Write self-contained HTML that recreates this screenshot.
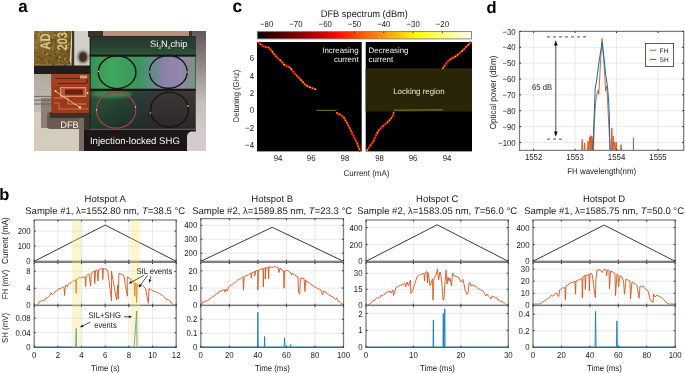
<!DOCTYPE html><html><head><meta charset="utf-8"><style>html,body{margin:0;padding:0;background:#fff;overflow:hidden}svg{display:block;will-change:transform}text{text-rendering:geometricPrecision}</style></head><body><svg width="685" height="373" viewBox="0 0 685 373" font-family="'Liberation Sans', sans-serif">
<rect width="685" height="373" fill="#fff"/>
<text font-size="17" text-anchor="start" fill="#000" font-weight="bold" transform="translate(18.30 12.00)" >a</text>
<text font-size="16.5" text-anchor="start" fill="#000" font-weight="bold" transform="translate(-0.80 199.60)" >b</text>
<text font-size="17.5" text-anchor="start" fill="#000" font-weight="bold" transform="translate(232.60 12.00)" >c</text>
<text font-size="16.5" text-anchor="start" fill="#000" font-weight="bold" transform="translate(486.50 12.60)" >d</text>
<defs>
<filter id="pb" x="-5%" y="-5%" width="110%" height="110%"><feGaussianBlur stdDeviation="0.6"/></filter>
<filter id="pb2" x="-60%" y="-60%" width="220%" height="220%"><feGaussianBlur stdDeviation="1.5"/></filter>
<clipPath id="pc"><rect x="34" y="31" width="172" height="120"/></clipPath>
<linearGradient id="gold" x1="0" y1="0" x2="1" y2="1">
 <stop offset="0" stop-color="#9a8040"/><stop offset="0.5" stop-color="#7c6028"/><stop offset="1" stop-color="#6a5222"/>
</linearGradient>
<linearGradient id="dk" x1="0" y1="0" x2="0" y2="1">
 <stop offset="0" stop-color="#000" stop-opacity="0"/><stop offset="1" stop-color="#000" stop-opacity="0.3"/>
</linearGradient>
<linearGradient id="top" x1="0" y1="0" x2="0" y2="1">
 <stop offset="0" stop-color="#283832"/><stop offset="0.6" stop-color="#2c4434"/><stop offset="1" stop-color="#2e5a3a"/>
</linearGradient>
<linearGradient id="r1" x1="0" y1="0" x2="1" y2="0">
 <stop offset="0" stop-color="#3a9456"/><stop offset="0.2" stop-color="#42ac60"/><stop offset="0.45" stop-color="#3a9a5e"/><stop offset="0.56" stop-color="#5a9280"/><stop offset="0.72" stop-color="#9084b0"/><stop offset="0.88" stop-color="#968cac"/><stop offset="1" stop-color="#78987c"/>
</linearGradient>
<linearGradient id="r2" x1="0" y1="0" x2="1" y2="0">
 <stop offset="0" stop-color="#2e5a40"/><stop offset="0.3" stop-color="#2a4a3c"/><stop offset="0.5" stop-color="#2e403a"/><stop offset="0.65" stop-color="#40383a"/><stop offset="1" stop-color="#3e3a36"/>
</linearGradient>
<linearGradient id="rgt" x1="0" y1="0" x2="0" y2="1">
 <stop offset="0" stop-color="#5e5454"/><stop offset="0.25" stop-color="#8a8080"/><stop offset="0.6" stop-color="#c8c0c0"/><stop offset="1" stop-color="#dcd4d4"/>
</linearGradient>
<linearGradient id="lft" x1="0" y1="0" x2="0" y2="1">
 <stop offset="0" stop-color="#b0a89c"/><stop offset="1" stop-color="#c8c0b4"/>
</linearGradient>
</defs>
<g clip-path="url(#pc)"><g filter="url(#pb)">
<rect x="30" y="28" width="180" height="126" fill="#8c8078"/>
<rect x="30" y="72" width="22" height="45" fill="url(#lft)"/>
<rect x="30" y="112" width="60" height="42" fill="#d4ccbc"/>
<rect x="41" y="98" width="11" height="30" fill="#8e8076"/>
<rect x="47" y="112" width="43" height="17" rx="3" fill="#6a5a50"/>
<rect x="50" y="112" width="40" height="6" fill="#3a3028"/>
<rect x="79" y="118" width="6" height="36" fill="#7a6a60"/>
<rect x="84" y="100" width="6" height="54" fill="#3a302a"/>
<line x1="34" y1="96.4" x2="52" y2="96.4" stroke="#6a6058" stroke-width="0.9"/>
<line x1="34" y1="100.2" x2="52" y2="100.2" stroke="#6a6058" stroke-width="0.9"/>
<line x1="34" y1="104" x2="52" y2="104" stroke="#6a6058" stroke-width="0.9"/>
<polygon points="30,28 72.5,28 70.5,63 69,65.5 30,65.5" fill="url(#gold)"/>
<line x1="72.2" y1="31" x2="70.2" y2="63" stroke="#e0d49a" stroke-width="1.4"/>
<line x1="34" y1="65.2" x2="70" y2="65.2" stroke="#b8a870" stroke-width="1"/>
<rect x="42.6" y="49.5" width="1.3" height="1.3" fill="#907238"/>
<rect x="67.0" y="47.1" width="1.3" height="1.3" fill="#b09850"/>
<rect x="36.4" y="31.4" width="1.3" height="1.3" fill="#4e3a14"/>
<rect x="43.3" y="39.0" width="1.3" height="1.3" fill="#4e3a14"/>
<rect x="53.5" y="49.7" width="1.3" height="1.3" fill="#4e3a14"/>
<rect x="57.0" y="36.1" width="1.3" height="1.3" fill="#5a4412"/>
<rect x="65.2" y="48.8" width="1.3" height="1.3" fill="#a88c48"/>
<rect x="58.2" y="33.2" width="1.3" height="1.3" fill="#b09850"/>
<rect x="35.5" y="57.5" width="1.3" height="1.3" fill="#907238"/>
<rect x="51.0" y="55.4" width="1.3" height="1.3" fill="#4e3a14"/>
<rect x="59.7" y="62.3" width="1.3" height="1.3" fill="#4e3a14"/>
<rect x="60.2" y="50.6" width="1.3" height="1.3" fill="#5a4412"/>
<rect x="65.6" y="34.3" width="1.3" height="1.3" fill="#5a4412"/>
<rect x="51.8" y="39.8" width="1.3" height="1.3" fill="#4e3a14"/>
<rect x="62.0" y="60.1" width="1.3" height="1.3" fill="#4e3a14"/>
<rect x="52.3" y="44.1" width="1.3" height="1.3" fill="#907238"/>
<rect x="53.2" y="44.9" width="1.3" height="1.3" fill="#5a4412"/>
<rect x="66.6" y="54.2" width="1.3" height="1.3" fill="#a88c48"/>
<rect x="64.8" y="64.7" width="1.3" height="1.3" fill="#5a4412"/>
<rect x="59.2" y="42.1" width="1.3" height="1.3" fill="#b09850"/>
<rect x="66.6" y="50.3" width="1.3" height="1.3" fill="#5a4412"/>
<rect x="56.8" y="64.6" width="1.3" height="1.3" fill="#907238"/>
<rect x="44.3" y="33.2" width="1.3" height="1.3" fill="#4e3a14"/>
<rect x="37.2" y="58.2" width="1.3" height="1.3" fill="#4e3a14"/>
<rect x="66.3" y="31.7" width="1.3" height="1.3" fill="#4e3a14"/>
<rect x="61.7" y="60.7" width="1.3" height="1.3" fill="#a88c48"/>
<rect x="55.8" y="56.9" width="1.3" height="1.3" fill="#4e3a14"/>
<rect x="59.9" y="42.3" width="1.3" height="1.3" fill="#907238"/>
<rect x="52.2" y="64.9" width="1.3" height="1.3" fill="#907238"/>
<rect x="34.3" y="34.7" width="1.3" height="1.3" fill="#b09850"/>
<rect x="35.1" y="37.7" width="1.3" height="1.3" fill="#4e3a14"/>
<rect x="44.5" y="40.0" width="1.3" height="1.3" fill="#a88c48"/>
<rect x="69.3" y="42.6" width="1.3" height="1.3" fill="#907238"/>
<rect x="68.5" y="61.5" width="1.3" height="1.3" fill="#4e3a14"/>
<rect x="47.6" y="60.6" width="1.3" height="1.3" fill="#4e3a14"/>
<rect x="57.2" y="51.3" width="1.3" height="1.3" fill="#b09850"/>
<rect x="37.7" y="64.1" width="1.3" height="1.3" fill="#b09850"/>
<rect x="43.8" y="52.6" width="1.3" height="1.3" fill="#5a4412"/>
<rect x="67.7" y="45.9" width="1.3" height="1.3" fill="#907238"/>
<rect x="52.8" y="49.6" width="1.3" height="1.3" fill="#a88c48"/>
<rect x="62.4" y="64.6" width="1.3" height="1.3" fill="#907238"/>
<rect x="34.7" y="51.9" width="1.3" height="1.3" fill="#5a4412"/>
<rect x="36.2" y="52.3" width="1.3" height="1.3" fill="#4e3a14"/>
<rect x="46.7" y="62.2" width="1.3" height="1.3" fill="#b09850"/>
<rect x="59.5" y="56.1" width="1.3" height="1.3" fill="#a88c48"/>
<rect x="55.2" y="63.5" width="1.3" height="1.3" fill="#a88c48"/>
<rect x="68.7" y="39.5" width="1.3" height="1.3" fill="#4e3a14"/>
<rect x="44.8" y="51.4" width="1.3" height="1.3" fill="#5a4412"/>
<rect x="47.1" y="41.6" width="1.3" height="1.3" fill="#907238"/>
<rect x="64.4" y="40.0" width="1.3" height="1.3" fill="#4e3a14"/>
<rect x="37.8" y="58.6" width="1.3" height="1.3" fill="#b09850"/>
<rect x="58.6" y="35.5" width="1.3" height="1.3" fill="#b09850"/>
<rect x="42.0" y="58.3" width="1.3" height="1.3" fill="#5a4412"/>
<rect x="45.8" y="54.1" width="1.3" height="1.3" fill="#a88c48"/>
<rect x="37.7" y="41.9" width="1.3" height="1.3" fill="#907238"/>
<rect x="58.3" y="38.6" width="1.3" height="1.3" fill="#5a4412"/>
<rect x="36.9" y="56.2" width="1.3" height="1.3" fill="#5a4412"/>
<rect x="65.9" y="46.3" width="1.3" height="1.3" fill="#5a4412"/>
<rect x="62.3" y="32.2" width="1.3" height="1.3" fill="#5a4412"/>
<rect x="45.3" y="59.4" width="1.3" height="1.3" fill="#b09850"/>
<rect x="40.6" y="40.5" width="1.3" height="1.3" fill="#a88c48"/>
<rect x="63.0" y="42.7" width="1.3" height="1.3" fill="#5a4412"/>
<rect x="49.2" y="48.6" width="1.3" height="1.3" fill="#907238"/>
<rect x="50.7" y="52.6" width="1.3" height="1.3" fill="#907238"/>
<rect x="49.1" y="44.9" width="1.3" height="1.3" fill="#4e3a14"/>
<rect x="39.6" y="31.2" width="1.3" height="1.3" fill="#b09850"/>
<rect x="69.5" y="45.8" width="1.3" height="1.3" fill="#5a4412"/>
<rect x="35.2" y="46.5" width="1.3" height="1.3" fill="#b09850"/>
<rect x="68.7" y="49.5" width="1.3" height="1.3" fill="#5a4412"/>
<rect x="65.0" y="60.2" width="1.3" height="1.3" fill="#907238"/>
<rect x="38.3" y="39.3" width="1.3" height="1.3" fill="#a88c48"/>
<rect x="66.5" y="54.6" width="1.3" height="1.3" fill="#5a4412"/>
<rect x="66.3" y="61.6" width="1.3" height="1.3" fill="#b09850"/>
<rect x="35.8" y="47.4" width="1.3" height="1.3" fill="#a88c48"/>
<rect x="40.2" y="41.2" width="1.3" height="1.3" fill="#a88c48"/>
<rect x="52.9" y="45.1" width="1.3" height="1.3" fill="#b09850"/>
<rect x="38.1" y="35.3" width="1.3" height="1.3" fill="#b09850"/>
<rect x="51.2" y="57.6" width="1.3" height="1.3" fill="#907238"/>
<rect x="41.9" y="35.2" width="1.3" height="1.3" fill="#a88c48"/>
<rect x="40.2" y="57.9" width="1.3" height="1.3" fill="#5a4412"/>
<rect x="63.6" y="31.3" width="1.3" height="1.3" fill="#b09850"/>
<rect x="65.1" y="32.7" width="1.3" height="1.3" fill="#907238"/>
<rect x="42.9" y="52.0" width="1.3" height="1.3" fill="#b09850"/>
<rect x="49.2" y="47.1" width="1.3" height="1.3" fill="#a88c48"/>
<rect x="64.9" y="57.4" width="1.3" height="1.3" fill="#a88c48"/>
<rect x="38.5" y="33.3" width="1.3" height="1.3" fill="#a88c48"/>
<rect x="64.8" y="33.9" width="1.3" height="1.3" fill="#b09850"/>
<rect x="51.6" y="36.3" width="1.3" height="1.3" fill="#a88c48"/>
<rect x="46.6" y="53.0" width="1.3" height="1.3" fill="#b09850"/>
<rect x="44.9" y="40.0" width="1.3" height="1.3" fill="#907238"/>
<rect x="49.4" y="35.3" width="1.3" height="1.3" fill="#a88c48"/>
<rect x="59.8" y="43.9" width="1.3" height="1.3" fill="#a88c48"/>
<rect x="54.4" y="32.5" width="1.3" height="1.3" fill="#4e3a14"/>
<rect x="55.8" y="57.6" width="1.3" height="1.3" fill="#4e3a14"/>
<rect x="56.9" y="32.5" width="1.3" height="1.3" fill="#4e3a14"/>
<rect x="35.9" y="52.3" width="1.3" height="1.3" fill="#907238"/>
<rect x="49.1" y="54.6" width="1.3" height="1.3" fill="#4e3a14"/>
<rect x="34.6" y="38.4" width="1.3" height="1.3" fill="#907238"/>
<rect x="59.0" y="33.4" width="1.3" height="1.3" fill="#4e3a14"/>
<rect x="42.1" y="35.4" width="1.3" height="1.3" fill="#a88c48"/>
<rect x="67.7" y="43.7" width="1.3" height="1.3" fill="#b09850"/>
<rect x="62.5" y="39.9" width="1.3" height="1.3" fill="#4e3a14"/>
<rect x="58.9" y="62.9" width="1.3" height="1.3" fill="#b09850"/>
<rect x="62.5" y="53.7" width="1.3" height="1.3" fill="#907238"/>
<rect x="54.3" y="34.5" width="1.3" height="1.3" fill="#b09850"/>
<rect x="59.8" y="47.1" width="1.3" height="1.3" fill="#5a4412"/>
<rect x="61.9" y="32.5" width="1.3" height="1.3" fill="#a88c48"/>
<rect x="54.3" y="53.4" width="1.3" height="1.3" fill="#4e3a14"/>
<rect x="40.4" y="31.8" width="1.3" height="1.3" fill="#a88c48"/>
<rect x="34.9" y="34.9" width="1.3" height="1.3" fill="#4e3a14"/>
<rect x="64.1" y="63.4" width="1.3" height="1.3" fill="#b09850"/>
<rect x="44.8" y="34.0" width="1.3" height="1.3" fill="#b09850"/>
<rect x="52.4" y="55.3" width="1.3" height="1.3" fill="#a88c48"/>
<rect x="54.0" y="34.4" width="1.3" height="1.3" fill="#b09850"/>
<rect x="36.2" y="42.0" width="1.3" height="1.3" fill="#b09850"/>
<rect x="40.5" y="33.6" width="1.3" height="1.3" fill="#5a4412"/>
<rect x="57.3" y="46.4" width="1.3" height="1.3" fill="#4e3a14"/>
<rect x="43.1" y="51.4" width="1.3" height="1.3" fill="#907238"/>
<rect x="54.0" y="63.9" width="1.3" height="1.3" fill="#4e3a14"/>
<rect x="52.0" y="64.1" width="1.3" height="1.3" fill="#4e3a14"/>
<rect x="64.4" y="63.9" width="1.3" height="1.3" fill="#4e3a14"/>
<rect x="58.9" y="56.7" width="1.3" height="1.3" fill="#b09850"/>
<rect x="58.7" y="36.3" width="1.3" height="1.3" fill="#4e3a14"/>
<rect x="66.3" y="36.1" width="1.3" height="1.3" fill="#a88c48"/>
<rect x="51.9" y="47.4" width="1.3" height="1.3" fill="#b09850"/>
<rect x="68.2" y="50.9" width="1.3" height="1.3" fill="#5a4412"/>
<rect x="38.9" y="56.6" width="1.3" height="1.3" fill="#5a4412"/>
<rect x="55.1" y="41.7" width="1.3" height="1.3" fill="#5a4412"/>
<rect x="64.7" y="49.3" width="1.3" height="1.3" fill="#907238"/>
<rect x="58.2" y="60.1" width="1.3" height="1.3" fill="#b09850"/>
<rect x="64.7" y="50.9" width="1.3" height="1.3" fill="#907238"/>
<rect x="66.0" y="41.4" width="1.3" height="1.3" fill="#907238"/>
<rect x="51.3" y="44.0" width="1.3" height="1.3" fill="#5a4412"/>
<rect x="54.5" y="39.1" width="1.3" height="1.3" fill="#4e3a14"/>
<rect x="61.9" y="35.9" width="1.3" height="1.3" fill="#4e3a14"/>
<rect x="59.3" y="38.0" width="1.3" height="1.3" fill="#b09850"/>
<rect x="64.0" y="58.9" width="1.3" height="1.3" fill="#b09850"/>
<rect x="35.0" y="64.8" width="1.3" height="1.3" fill="#a88c48"/>
<rect x="64.8" y="44.6" width="1.3" height="1.3" fill="#a88c48"/>
<rect x="50.8" y="38.8" width="1.3" height="1.3" fill="#5a4412"/>
<text x="0" y="0" font-size="14" font-weight="bold" fill="#d8c888" transform="translate(50.3 49.8) rotate(-90) scale(0.82 1)">AD</text>
<text x="0" y="0" font-size="14" font-weight="bold" fill="#d4c484" transform="translate(67.2 50.6) rotate(-90) scale(0.8 1)">203</text>
<rect x="72" y="28" width="18" height="46" fill="#d2d0c8"/>
<rect x="72" y="28" width="2.2" height="46" fill="#3a342c"/>
<ellipse cx="83" cy="57" rx="5" ry="6" fill="#4a4034" filter="url(#pb2)"/>
<ellipse cx="83" cy="57" rx="3.5" ry="4.5" fill="#3a3028"/>
<rect x="30" y="65.5" width="60" height="8.5" fill="#221e1a"/>
<rect x="51.3" y="74" width="38.3" height="39" fill="#9c3a1a"/>
<rect x="51.3" y="74" width="38.3" height="12" fill="#a64020"/>
<path d="M55 78.5 H85 Q87.5 78.5 87.5 81 Q87.5 83.5 85 83.5 H58" stroke="#6a1c0c" stroke-width="1.2" fill="none"/>
<rect x="80" y="75.5" width="7" height="3" fill="#e0a080"/>
<rect x="60.6" y="87.6" width="25.2" height="8.8" fill="#b85432" stroke="#e89a70" stroke-width="1"/>
<rect x="65" y="89.3" width="18" height="5.4" fill="#6a2414"/>
<path d="M54 98 L68 98 L68 104 L86 104" stroke="#d8804c" stroke-width="1" fill="none"/>
<path d="M54 103 L59 103 L59 109 L88 109" stroke="#c8703e" stroke-width="1.1" fill="none"/>
<line x1="55" y1="91" x2="80" y2="107.5" stroke="#f0d8c8" stroke-width="0.8"/>
<circle cx="80" cy="107.5" r="1.2" fill="#fff0e0"/><circle cx="55.5" cy="91" r="1" fill="#fff0e0"/><circle cx="87.5" cy="93" r="0.9" fill="#ffe8d0"/>
<rect x="88" y="28" width="104" height="9" fill="#3a322c"/>
<rect x="103" y="28" width="86" height="8" fill="#b8907e"/>
<rect x="192" y="28" width="18" height="126" fill="url(#rgt)"/>
<rect x="89.6" y="36.2" width="106" height="94" fill="#1a1c18"/>
<rect x="90.7" y="36.6" width="104.5" height="18.2" fill="url(#top)"/>
<rect x="90.7" y="56.4" width="104.5" height="32.5" fill="url(#r1)"/>
<rect x="90.7" y="91" width="104.5" height="37.8" fill="url(#r2)"/>
<rect x="90.7" y="91" width="104.5" height="37.8" fill="url(#dk)"/>
<ellipse cx="112" cy="94" rx="20" ry="4" fill="#48a058" opacity="0.7" filter="url(#pb2)"/>
<rect x="89.6" y="54.7" width="106" height="1.8" fill="#161816"/>
<rect x="89.6" y="88.8" width="106" height="2.2" fill="#141414"/>
<rect x="89.6" y="128.8" width="106" height="1.2" fill="#5a5a58"/>
<line x1="91" y1="37" x2="91" y2="128.5" stroke="#000" stroke-opacity="0.06" stroke-width="0.8"/>
<line x1="93" y1="37" x2="93" y2="128.5" stroke="#000" stroke-opacity="0.06" stroke-width="0.8"/>
<line x1="95" y1="37" x2="95" y2="128.5" stroke="#000" stroke-opacity="0.06" stroke-width="0.8"/>
<line x1="97" y1="37" x2="97" y2="128.5" stroke="#000" stroke-opacity="0.06" stroke-width="0.8"/>
<line x1="99" y1="37" x2="99" y2="128.5" stroke="#000" stroke-opacity="0.06" stroke-width="0.8"/>
<line x1="101" y1="37" x2="101" y2="128.5" stroke="#000" stroke-opacity="0.06" stroke-width="0.8"/>
<line x1="103" y1="37" x2="103" y2="128.5" stroke="#000" stroke-opacity="0.06" stroke-width="0.8"/>
<line x1="105" y1="37" x2="105" y2="128.5" stroke="#000" stroke-opacity="0.06" stroke-width="0.8"/>
<line x1="107" y1="37" x2="107" y2="128.5" stroke="#000" stroke-opacity="0.06" stroke-width="0.8"/>
<line x1="109" y1="37" x2="109" y2="128.5" stroke="#000" stroke-opacity="0.06" stroke-width="0.8"/>
<line x1="111" y1="37" x2="111" y2="128.5" stroke="#000" stroke-opacity="0.06" stroke-width="0.8"/>
<line x1="113" y1="37" x2="113" y2="128.5" stroke="#000" stroke-opacity="0.06" stroke-width="0.8"/>
<line x1="115" y1="37" x2="115" y2="128.5" stroke="#000" stroke-opacity="0.06" stroke-width="0.8"/>
<line x1="117" y1="37" x2="117" y2="128.5" stroke="#000" stroke-opacity="0.06" stroke-width="0.8"/>
<line x1="119" y1="37" x2="119" y2="128.5" stroke="#000" stroke-opacity="0.06" stroke-width="0.8"/>
<line x1="121" y1="37" x2="121" y2="128.5" stroke="#000" stroke-opacity="0.06" stroke-width="0.8"/>
<line x1="123" y1="37" x2="123" y2="128.5" stroke="#000" stroke-opacity="0.06" stroke-width="0.8"/>
<line x1="125" y1="37" x2="125" y2="128.5" stroke="#000" stroke-opacity="0.06" stroke-width="0.8"/>
<line x1="127" y1="37" x2="127" y2="128.5" stroke="#000" stroke-opacity="0.06" stroke-width="0.8"/>
<line x1="129" y1="37" x2="129" y2="128.5" stroke="#000" stroke-opacity="0.06" stroke-width="0.8"/>
<line x1="131" y1="37" x2="131" y2="128.5" stroke="#000" stroke-opacity="0.06" stroke-width="0.8"/>
<line x1="133" y1="37" x2="133" y2="128.5" stroke="#000" stroke-opacity="0.06" stroke-width="0.8"/>
<line x1="135" y1="37" x2="135" y2="128.5" stroke="#000" stroke-opacity="0.06" stroke-width="0.8"/>
<line x1="137" y1="37" x2="137" y2="128.5" stroke="#000" stroke-opacity="0.06" stroke-width="0.8"/>
<line x1="139" y1="37" x2="139" y2="128.5" stroke="#000" stroke-opacity="0.06" stroke-width="0.8"/>
<line x1="141" y1="37" x2="141" y2="128.5" stroke="#000" stroke-opacity="0.06" stroke-width="0.8"/>
<line x1="143" y1="37" x2="143" y2="128.5" stroke="#000" stroke-opacity="0.06" stroke-width="0.8"/>
<line x1="145" y1="37" x2="145" y2="128.5" stroke="#000" stroke-opacity="0.06" stroke-width="0.8"/>
<line x1="147" y1="37" x2="147" y2="128.5" stroke="#000" stroke-opacity="0.06" stroke-width="0.8"/>
<line x1="149" y1="37" x2="149" y2="128.5" stroke="#000" stroke-opacity="0.06" stroke-width="0.8"/>
<line x1="151" y1="37" x2="151" y2="128.5" stroke="#000" stroke-opacity="0.06" stroke-width="0.8"/>
<line x1="153" y1="37" x2="153" y2="128.5" stroke="#000" stroke-opacity="0.06" stroke-width="0.8"/>
<line x1="155" y1="37" x2="155" y2="128.5" stroke="#000" stroke-opacity="0.06" stroke-width="0.8"/>
<line x1="157" y1="37" x2="157" y2="128.5" stroke="#000" stroke-opacity="0.06" stroke-width="0.8"/>
<line x1="159" y1="37" x2="159" y2="128.5" stroke="#000" stroke-opacity="0.06" stroke-width="0.8"/>
<line x1="161" y1="37" x2="161" y2="128.5" stroke="#000" stroke-opacity="0.06" stroke-width="0.8"/>
<line x1="163" y1="37" x2="163" y2="128.5" stroke="#000" stroke-opacity="0.06" stroke-width="0.8"/>
<line x1="165" y1="37" x2="165" y2="128.5" stroke="#000" stroke-opacity="0.06" stroke-width="0.8"/>
<line x1="167" y1="37" x2="167" y2="128.5" stroke="#000" stroke-opacity="0.06" stroke-width="0.8"/>
<line x1="169" y1="37" x2="169" y2="128.5" stroke="#000" stroke-opacity="0.06" stroke-width="0.8"/>
<line x1="171" y1="37" x2="171" y2="128.5" stroke="#000" stroke-opacity="0.06" stroke-width="0.8"/>
<line x1="173" y1="37" x2="173" y2="128.5" stroke="#000" stroke-opacity="0.06" stroke-width="0.8"/>
<line x1="175" y1="37" x2="175" y2="128.5" stroke="#000" stroke-opacity="0.06" stroke-width="0.8"/>
<line x1="177" y1="37" x2="177" y2="128.5" stroke="#000" stroke-opacity="0.06" stroke-width="0.8"/>
<line x1="179" y1="37" x2="179" y2="128.5" stroke="#000" stroke-opacity="0.06" stroke-width="0.8"/>
<line x1="181" y1="37" x2="181" y2="128.5" stroke="#000" stroke-opacity="0.06" stroke-width="0.8"/>
<line x1="183" y1="37" x2="183" y2="128.5" stroke="#000" stroke-opacity="0.06" stroke-width="0.8"/>
<line x1="185" y1="37" x2="185" y2="128.5" stroke="#000" stroke-opacity="0.06" stroke-width="0.8"/>
<line x1="187" y1="37" x2="187" y2="128.5" stroke="#000" stroke-opacity="0.06" stroke-width="0.8"/>
<line x1="189" y1="37" x2="189" y2="128.5" stroke="#000" stroke-opacity="0.06" stroke-width="0.8"/>
<line x1="191" y1="37" x2="191" y2="128.5" stroke="#000" stroke-opacity="0.06" stroke-width="0.8"/>
<line x1="193" y1="37" x2="193" y2="128.5" stroke="#000" stroke-opacity="0.06" stroke-width="0.8"/>
<line x1="195" y1="37" x2="195" y2="128.5" stroke="#000" stroke-opacity="0.06" stroke-width="0.8"/>
<ellipse cx="117.1" cy="72.2" rx="18.8" ry="16.4" fill="none" stroke="#121412" stroke-width="1.4"/>
<ellipse cx="168.3" cy="71.9" rx="18.9" ry="16.4" fill="none" stroke="#161418" stroke-width="1.4"/>
<ellipse cx="116.1" cy="110.2" rx="19.6" ry="18.0" fill="none" stroke="#a83a4c" stroke-width="1.3"/>
<ellipse cx="169.5" cy="109.8" rx="19" ry="17.4" fill="none" stroke="#161414" stroke-width="1.4"/>
<circle cx="98.5" cy="71.5" r="0.7" fill="#c0f0e0"/><circle cx="149.5" cy="72" r="0.7" fill="#d0e8ff"/><circle cx="187" cy="72" r="0.7" fill="#f0f0c0"/><circle cx="150.5" cy="113" r="0.8" fill="#c0b0ff"/><circle cx="188" cy="106" r="0.8" fill="#f0f0e0"/><circle cx="135.5" cy="107" r="0.7" fill="#e0d0ff"/><circle cx="96.5" cy="110" r="0.7" fill="#f0f0f0"/>
<rect x="84" y="130" width="112" height="24" fill="#1c1816"/>
<rect x="187" y="131.6" width="23" height="23" rx="5" fill="#d4cccc"/>
</g>
<text x="150.0" y="46.9" font-size="9.35" fill="#f4f4f4">Si<tspan font-size="4.8" dy="1.7">3</tspan><tspan dy="-1.7">N</tspan><tspan font-size="4.8" dy="1.7">4</tspan><tspan dy="-1.7">chip</tspan></text>
<text x="69.5" y="127.9" font-size="9.4" text-anchor="middle" fill="#f4f4f4">DFB</text>
<text x="89.9" y="143.6" font-size="9.58" fill="#f4f4f4">Injection-locked SHG</text>
</g>
<defs><linearGradient id="hot" x1="0" y1="0" x2="1" y2="0">
<stop offset="0" stop-color="#0b0000"/>
<stop offset="0.125" stop-color="#5a0000"/>
<stop offset="0.25" stop-color="#aa0000"/>
<stop offset="0.375" stop-color="#ff0a00"/>
<stop offset="0.5" stop-color="#ff6000"/>
<stop offset="0.625" stop-color="#ffb000"/>
<stop offset="0.75" stop-color="#ffff0a"/>
<stop offset="0.875" stop-color="#ffff80"/>
<stop offset="1" stop-color="#fffff5"/>
</linearGradient>
<filter id="cb" x="-10%" y="-10%" width="120%" height="120%"><feGaussianBlur stdDeviation="0.45"/></filter>
</defs>
<rect x="257.3" y="31.6" width="214.2" height="7.3" fill="url(#hot)" stroke="#7a7a7a" stroke-width="0.9"/>
<line x1="266.6" y1="31.6" x2="266.6" y2="33.2" stroke="#222" stroke-width="0.8"/>
<text font-size="8.6" text-anchor="middle" fill="#1c1c1c" transform="translate(266.60 27.20) scale(0.91 1)" >−80</text>
<line x1="295.9" y1="31.6" x2="295.9" y2="33.2" stroke="#222" stroke-width="0.8"/>
<text font-size="8.6" text-anchor="middle" fill="#1c1c1c" transform="translate(295.90 27.20) scale(0.91 1)" >−70</text>
<line x1="325.2" y1="31.6" x2="325.2" y2="33.2" stroke="#222" stroke-width="0.8"/>
<text font-size="8.6" text-anchor="middle" fill="#1c1c1c" transform="translate(325.20 27.20) scale(0.91 1)" >−60</text>
<line x1="354.5" y1="31.6" x2="354.5" y2="33.2" stroke="#222" stroke-width="0.8"/>
<text font-size="8.6" text-anchor="middle" fill="#1c1c1c" transform="translate(354.50 27.20) scale(0.91 1)" >−50</text>
<line x1="383.8" y1="31.6" x2="383.8" y2="33.2" stroke="#222" stroke-width="0.8"/>
<text font-size="8.6" text-anchor="middle" fill="#1c1c1c" transform="translate(383.80 27.20) scale(0.91 1)" >−40</text>
<line x1="413.1" y1="31.6" x2="413.1" y2="33.2" stroke="#222" stroke-width="0.8"/>
<text font-size="8.6" text-anchor="middle" fill="#1c1c1c" transform="translate(413.10 27.20) scale(0.91 1)" >−30</text>
<line x1="442.4" y1="31.6" x2="442.4" y2="33.2" stroke="#222" stroke-width="0.8"/>
<text font-size="8.6" text-anchor="middle" fill="#1c1c1c" transform="translate(442.40 27.20) scale(0.91 1)" >−20</text>
<text font-size="9.6" text-anchor="middle" fill="#1c1c1c" transform="translate(364.30 16.60) scale(0.968 1)" >DFB spectrum (dBm)</text>
<rect x="257" y="42" width="104.7" height="109.4" fill="#000"/>
<rect x="365.7" y="42" width="106.3" height="109.4" fill="#000"/>
<rect x="365.7" y="68.3" width="106.3" height="43.3" fill="#2a2508"/>
<rect x="291.0" y="90.3" width="1" height="1" fill="#220400"/>
<rect x="262.9" y="86.7" width="1" height="1" fill="#220400"/>
<rect x="317.4" y="86.9" width="1" height="1" fill="#220400"/>
<rect x="266.8" y="93.6" width="1" height="1" fill="#220400"/>
<rect x="267.3" y="93.6" width="1" height="1" fill="#220400"/>
<rect x="315.7" y="90.8" width="1" height="1" fill="#220400"/>
<rect x="317.5" y="90.7" width="1" height="1" fill="#220400"/>
<rect x="298.5" y="89.6" width="1" height="1" fill="#220400"/>
<rect x="345.6" y="94.3" width="1" height="1" fill="#220400"/>
<rect x="313.1" y="87.1" width="1" height="1" fill="#220400"/>
<rect x="341.2" y="89.7" width="1" height="1" fill="#220400"/>
<rect x="316.3" y="90.2" width="1" height="1" fill="#220400"/>
<rect x="313.9" y="90.6" width="1" height="1" fill="#220400"/>
<rect x="321.1" y="94.9" width="1" height="1" fill="#220400"/>
<rect x="301.6" y="94.4" width="1" height="1" fill="#220400"/>
<rect x="352.2" y="94.1" width="1" height="1" fill="#220400"/>
<rect x="339.0" y="88.1" width="1" height="1" fill="#220400"/>
<rect x="266.3" y="94.6" width="1" height="1" fill="#220400"/>
<rect x="347.3" y="87.4" width="1" height="1" fill="#220400"/>
<rect x="320.1" y="89.7" width="1" height="1" fill="#220400"/>
<rect x="300.6" y="93.8" width="1" height="1" fill="#220400"/>
<rect x="307.9" y="91.4" width="1" height="1" fill="#220400"/>
<rect x="265.9" y="87.6" width="1" height="1" fill="#220400"/>
<rect x="347.3" y="94.2" width="1" height="1" fill="#220400"/>
<rect x="293.7" y="94.7" width="1" height="1" fill="#220400"/>
<rect x="304.5" y="91.4" width="1" height="1" fill="#220400"/>
<rect x="306.4" y="86.6" width="1" height="1" fill="#220400"/>
<rect x="332.6" y="94.8" width="1" height="1" fill="#220400"/>
<rect x="359.3" y="94.1" width="1" height="1" fill="#220400"/>
<rect x="297.4" y="87.2" width="1" height="1" fill="#220400"/>
<rect x="353.9" y="93.8" width="1" height="1" fill="#220400"/>
<rect x="269.9" y="89.9" width="1" height="1" fill="#220400"/>
<rect x="287.3" y="87.0" width="1" height="1" fill="#220400"/>
<rect x="297.9" y="93.7" width="1" height="1" fill="#220400"/>
<rect x="303.8" y="87.1" width="1" height="1" fill="#220400"/>
<rect x="272.0" y="95.2" width="1" height="1" fill="#220400"/>
<rect x="286.4" y="95.5" width="1" height="1" fill="#220400"/>
<rect x="327.6" y="95.4" width="1" height="1" fill="#220400"/>
<rect x="273.4" y="89.8" width="1" height="1" fill="#220400"/>
<rect x="325.2" y="90.5" width="1" height="1" fill="#220400"/>
<g filter="url(#cb)">
<polyline points="258.50,42.30 262.50,46.00 266.00,47.00 268.50,47.50 270.00,49.00 273.00,52.50 275.00,55.00 277.00,57.50 279.50,59.50 282.00,62.00 284.00,64.50 286.00,65.50 290.00,67.50 294.80,73.70 299.60,78.50 305.30,84.90 310.10,87.30 315.70,89.40" fill="none" stroke="#900a00" stroke-width="2.6" stroke-linejoin="round" />
<polyline points="337.00,113.00 340.00,114.50 343.30,116.80 346.00,121.00 349.70,128.00 352.00,133.00 355.00,139.00 357.00,143.00 359.40,149.00 360.50,151.00" fill="none" stroke="#900a00" stroke-width="2.6" stroke-linejoin="round" />
<polyline points="367.20,150.10 370.00,146.00 373.10,142.00 376.70,133.90 379.00,130.00 382.60,126.50 385.00,124.50 388.50,121.40 392.20,117.00 393.70,112.50" fill="none" stroke="#900a00" stroke-width="2.6" stroke-linejoin="round" />
<polyline points="443.10,68.20 445.00,65.00 448.10,61.10 452.10,58.10 456.20,56.10 459.00,53.50 462.20,51.10 466.00,47.00 470.20,43.00 471.50,42.00" fill="none" stroke="#900a00" stroke-width="2.6" stroke-linejoin="round" />
<ellipse cx="258.50" cy="42.30" rx="1.1" ry="0.75" fill="#ff8c00" transform="rotate(43 258.50 42.30)"/>
<ellipse cx="260.63" cy="44.27" rx="1.1" ry="0.75" fill="#ff8c00" transform="rotate(43 260.63 44.27)"/>
<ellipse cx="262.84" cy="46.10" rx="1.1" ry="0.75" fill="#ff4a00" transform="rotate(16 262.84 46.10)"/>
<ellipse cx="265.63" cy="46.89" rx="1.1" ry="0.75" fill="#ff8c00" transform="rotate(16 265.63 46.89)"/>
<ellipse cx="268.46" cy="47.49" rx="1.1" ry="0.75" fill="#ff8c00" transform="rotate(11 268.46 47.49)"/>
<ellipse cx="270.48" cy="49.56" rx="1.1" ry="0.75" fill="#ff8c00" transform="rotate(49 270.48 49.56)"/>
<ellipse cx="272.37" cy="51.76" rx="1.1" ry="0.75" fill="#ffc820" transform="rotate(49 272.37 51.76)"/>
<ellipse cx="274.21" cy="54.01" rx="1.1" ry="0.75" fill="#ff8c00" transform="rotate(51 274.21 54.01)"/>
<ellipse cx="276.02" cy="56.27" rx="1.1" ry="0.75" fill="#ff8c00" transform="rotate(51 276.02 56.27)"/>
<ellipse cx="278.04" cy="58.33" rx="1.1" ry="0.75" fill="#ff4a00" transform="rotate(39 278.04 58.33)"/>
<ellipse cx="280.23" cy="60.23" rx="1.1" ry="0.75" fill="#ffc820" transform="rotate(45 280.23 60.23)"/>
<ellipse cx="282.24" cy="62.30" rx="1.1" ry="0.75" fill="#ff8c00" transform="rotate(51 282.24 62.30)"/>
<ellipse cx="284.08" cy="64.54" rx="1.1" ry="0.75" fill="#ffc820" transform="rotate(27 284.08 64.54)"/>
<ellipse cx="286.67" cy="65.84" rx="1.1" ry="0.75" fill="#ff4a00" transform="rotate(27 286.67 65.84)"/>
<ellipse cx="289.27" cy="67.13" rx="1.1" ry="0.75" fill="#ff8c00" transform="rotate(27 289.27 67.13)"/>
<ellipse cx="291.27" cy="69.15" rx="1.1" ry="0.75" fill="#ffc820" transform="rotate(52 291.27 69.15)"/>
<ellipse cx="293.05" cy="71.44" rx="1.1" ry="0.75" fill="#ff4a00" transform="rotate(52 293.05 71.44)"/>
<ellipse cx="294.83" cy="73.73" rx="1.1" ry="0.75" fill="#ff4a00" transform="rotate(45 294.83 73.73)"/>
<ellipse cx="296.88" cy="75.78" rx="1.1" ry="0.75" fill="#ff8c00" transform="rotate(45 296.88 75.78)"/>
<ellipse cx="298.93" cy="77.83" rx="1.1" ry="0.75" fill="#ff8c00" transform="rotate(45 298.93 77.83)"/>
<ellipse cx="300.90" cy="79.96" rx="1.1" ry="0.75" fill="#ffc820" transform="rotate(48 300.90 79.96)"/>
<ellipse cx="302.83" cy="82.12" rx="1.1" ry="0.75" fill="#ffc820" transform="rotate(48 302.83 82.12)"/>
<ellipse cx="304.76" cy="84.29" rx="1.1" ry="0.75" fill="#ff8c00" transform="rotate(48 304.76 84.29)"/>
<ellipse cx="307.16" cy="85.83" rx="1.1" ry="0.75" fill="#ffc820" transform="rotate(27 307.16 85.83)"/>
<ellipse cx="309.76" cy="87.13" rx="1.1" ry="0.75" fill="#ffc820" transform="rotate(27 309.76 87.13)"/>
<ellipse cx="312.45" cy="88.18" rx="1.1" ry="0.75" fill="#ff8c00" transform="rotate(21 312.45 88.18)"/>
<ellipse cx="315.17" cy="89.20" rx="1.1" ry="0.75" fill="#ffc820" transform="rotate(21 315.17 89.20)"/>
<ellipse cx="337.00" cy="113.00" rx="1.1" ry="0.75" fill="#ff8c00" transform="rotate(27 337.00 113.00)"/>
<ellipse cx="339.59" cy="114.30" rx="1.1" ry="0.75" fill="#ff8c00" transform="rotate(27 339.59 114.30)"/>
<ellipse cx="342.01" cy="115.90" rx="1.1" ry="0.75" fill="#ff4a00" transform="rotate(35 342.01 115.90)"/>
<ellipse cx="344.02" cy="117.91" rx="1.1" ry="0.75" fill="#ff8c00" transform="rotate(57 344.02 117.91)"/>
<ellipse cx="345.58" cy="120.35" rx="1.1" ry="0.75" fill="#ff8c00" transform="rotate(57 345.58 120.35)"/>
<ellipse cx="347.00" cy="122.88" rx="1.1" ry="0.75" fill="#ff8c00" transform="rotate(62 347.00 122.88)"/>
<ellipse cx="348.35" cy="125.45" rx="1.1" ry="0.75" fill="#ff8c00" transform="rotate(62 348.35 125.45)"/>
<ellipse cx="349.71" cy="128.01" rx="1.1" ry="0.75" fill="#ff8c00" transform="rotate(65 349.71 128.01)"/>
<ellipse cx="350.92" cy="130.65" rx="1.1" ry="0.75" fill="#ff8c00" transform="rotate(65 350.92 130.65)"/>
<ellipse cx="352.14" cy="133.28" rx="1.1" ry="0.75" fill="#ff4a00" transform="rotate(63 352.14 133.28)"/>
<ellipse cx="353.44" cy="135.87" rx="1.1" ry="0.75" fill="#ff4a00" transform="rotate(63 353.44 135.87)"/>
<ellipse cx="354.73" cy="138.46" rx="1.1" ry="0.75" fill="#ff4a00" transform="rotate(63 354.73 138.46)"/>
<ellipse cx="356.03" cy="141.06" rx="1.1" ry="0.75" fill="#ff4a00" transform="rotate(63 356.03 141.06)"/>
<ellipse cx="357.27" cy="143.68" rx="1.1" ry="0.75" fill="#ff8c00" transform="rotate(68 357.27 143.68)"/>
<ellipse cx="358.35" cy="146.37" rx="1.1" ry="0.75" fill="#ff8c00" transform="rotate(68 358.35 146.37)"/>
<ellipse cx="359.43" cy="149.06" rx="1.1" ry="0.75" fill="#ff8c00" transform="rotate(61 359.43 149.06)"/>
<ellipse cx="367.20" cy="150.10" rx="1.1" ry="0.75" fill="#ffc820" transform="rotate(-56 367.20 150.10)"/>
<ellipse cx="368.84" cy="147.71" rx="1.1" ry="0.75" fill="#ff4a00" transform="rotate(-56 368.84 147.71)"/>
<ellipse cx="370.51" cy="145.34" rx="1.1" ry="0.75" fill="#ff8c00" transform="rotate(-52 370.51 145.34)"/>
<ellipse cx="372.29" cy="143.05" rx="1.1" ry="0.75" fill="#ff4a00" transform="rotate(-52 372.29 143.05)"/>
<ellipse cx="373.74" cy="140.56" rx="1.1" ry="0.75" fill="#ff8c00" transform="rotate(-66 373.74 140.56)"/>
<ellipse cx="374.92" cy="137.91" rx="1.1" ry="0.75" fill="#ff4a00" transform="rotate(-66 374.92 137.91)"/>
<ellipse cx="376.10" cy="135.26" rx="1.1" ry="0.75" fill="#ff4a00" transform="rotate(-66 376.10 135.26)"/>
<ellipse cx="377.42" cy="132.69" rx="1.1" ry="0.75" fill="#ffc820" transform="rotate(-59 377.42 132.69)"/>
<ellipse cx="378.89" cy="130.19" rx="1.1" ry="0.75" fill="#ff8c00" transform="rotate(-59 378.89 130.19)"/>
<ellipse cx="380.92" cy="128.13" rx="1.1" ry="0.75" fill="#ff4a00" transform="rotate(-44 380.92 128.13)"/>
<ellipse cx="383.03" cy="126.14" rx="1.1" ry="0.75" fill="#ff8c00" transform="rotate(-40 383.03 126.14)"/>
<ellipse cx="385.25" cy="124.28" rx="1.1" ry="0.75" fill="#ff4a00" transform="rotate(-42 385.25 124.28)"/>
<ellipse cx="387.42" cy="122.35" rx="1.1" ry="0.75" fill="#ff8c00" transform="rotate(-42 387.42 122.35)"/>
<ellipse cx="389.44" cy="120.28" rx="1.1" ry="0.75" fill="#ffc820" transform="rotate(-50 389.44 120.28)"/>
<ellipse cx="391.31" cy="118.06" rx="1.1" ry="0.75" fill="#ff8c00" transform="rotate(-50 391.31 118.06)"/>
<ellipse cx="392.68" cy="115.56" rx="1.1" ry="0.75" fill="#ff4a00" transform="rotate(-72 392.68 115.56)"/>
<ellipse cx="393.60" cy="112.81" rx="1.1" ry="0.75" fill="#ff8c00" transform="rotate(-72 393.60 112.81)"/>
<ellipse cx="443.10" cy="68.20" rx="1.1" ry="0.75" fill="#ffc820" transform="rotate(-59 443.10 68.20)"/>
<ellipse cx="444.58" cy="65.71" rx="1.1" ry="0.75" fill="#ff8c00" transform="rotate(-59 444.58 65.71)"/>
<ellipse cx="446.29" cy="63.37" rx="1.1" ry="0.75" fill="#ff4a00" transform="rotate(-52 446.29 63.37)"/>
<ellipse cx="448.10" cy="61.10" rx="1.1" ry="0.75" fill="#ff4a00" transform="rotate(-52 448.10 61.10)"/>
<ellipse cx="450.42" cy="59.36" rx="1.1" ry="0.75" fill="#ffc820" transform="rotate(-37 450.42 59.36)"/>
<ellipse cx="452.82" cy="57.75" rx="1.1" ry="0.75" fill="#ff8c00" transform="rotate(-26 452.82 57.75)"/>
<ellipse cx="455.42" cy="56.48" rx="1.1" ry="0.75" fill="#ffc820" transform="rotate(-26 455.42 56.48)"/>
<ellipse cx="457.69" cy="54.72" rx="1.1" ry="0.75" fill="#ffc820" transform="rotate(-43 457.69 54.72)"/>
<ellipse cx="459.89" cy="52.83" rx="1.1" ry="0.75" fill="#ff4a00" transform="rotate(-37 459.89 52.83)"/>
<ellipse cx="462.21" cy="51.09" rx="1.1" ry="0.75" fill="#ffc820" transform="rotate(-47 462.21 51.09)"/>
<ellipse cx="464.18" cy="48.96" rx="1.1" ry="0.75" fill="#ff8c00" transform="rotate(-47 464.18 48.96)"/>
<ellipse cx="466.16" cy="46.85" rx="1.1" ry="0.75" fill="#ff8c00" transform="rotate(-44 466.16 46.85)"/>
<ellipse cx="468.26" cy="44.85" rx="1.1" ry="0.75" fill="#ffc820" transform="rotate(-44 468.26 44.85)"/>
<ellipse cx="470.38" cy="42.86" rx="1.1" ry="0.75" fill="#ff4a00" transform="rotate(-38 470.38 42.86)"/>
</g>
<polyline points="316.50,110.30 336.60,110.30" fill="none" stroke="#a8a828" stroke-width="0.75" stroke-linejoin="round" />
<polyline points="393.70,110.20 443.10,109.80" fill="none" stroke="#a8a828" stroke-width="0.75" stroke-linejoin="round" />
<text x="358.6" y="52.6" font-size="7.9" text-anchor="end" fill="#f0f0f0">Increasing</text>
<text x="358.6" y="62.4" font-size="7.9" text-anchor="end" fill="#f0f0f0">current</text>
<text x="368.6" y="52.6" font-size="7.9" fill="#f0f0f0">Decreasing</text>
<text x="368.6" y="62.4" font-size="7.9" fill="#f0f0f0">current</text>
<text x="418.9" y="93.5" font-size="7.9" text-anchor="middle" fill="#e8e8e0">Locking region</text>
<text font-size="8.6" text-anchor="end" fill="#1c1c1c" transform="translate(254.00 60.80) scale(0.91 1)" >6</text>
<text font-size="8.6" text-anchor="end" fill="#1c1c1c" transform="translate(254.00 78.50) scale(0.91 1)" >4</text>
<text font-size="8.6" text-anchor="end" fill="#1c1c1c" transform="translate(254.00 96.20) scale(0.91 1)" >2</text>
<text font-size="8.6" text-anchor="end" fill="#1c1c1c" transform="translate(254.00 113.20) scale(0.91 1)" >0</text>
<text font-size="8.6" text-anchor="end" fill="#1c1c1c" transform="translate(254.00 130.60) scale(0.91 1)" >−2</text>
<text font-size="8.6" text-anchor="end" fill="#1c1c1c" transform="translate(254.00 147.70) scale(0.91 1)" >−4</text>
<text font-size="8.3" text-anchor="middle" fill="#1c1c1c" transform="translate(239.40 96.00) rotate(-90) scale(0.91 1)" >Detuning (GHz)</text>
<text font-size="8.6" text-anchor="middle" fill="#1c1c1c" transform="translate(278.10 160.90) scale(0.91 1)" >94</text>
<text font-size="8.6" text-anchor="middle" fill="#1c1c1c" transform="translate(311.20 160.90) scale(0.91 1)" >96</text>
<text font-size="8.6" text-anchor="middle" fill="#1c1c1c" transform="translate(344.90 160.90) scale(0.91 1)" >98</text>
<text font-size="8.6" text-anchor="middle" fill="#1c1c1c" transform="translate(379.60 160.90) scale(0.91 1)" >98</text>
<text font-size="8.6" text-anchor="middle" fill="#1c1c1c" transform="translate(413.00 160.90) scale(0.91 1)" >96</text>
<text font-size="8.6" text-anchor="middle" fill="#1c1c1c" transform="translate(447.00 160.90) scale(0.91 1)" >94</text>
<text font-size="8.4" text-anchor="middle" fill="#1c1c1c" transform="translate(366.40 176.20) scale(0.95 1)" >Current (mA)</text>
<line x1="533.60" y1="31.4" x2="533.60" y2="150.4" stroke="#e3e3e3" stroke-width="0.8"/>
<line x1="575.06" y1="31.4" x2="575.06" y2="150.4" stroke="#e3e3e3" stroke-width="0.8"/>
<line x1="616.53" y1="31.4" x2="616.53" y2="150.4" stroke="#e3e3e3" stroke-width="0.8"/>
<line x1="657.99" y1="31.4" x2="657.99" y2="150.4" stroke="#e3e3e3" stroke-width="0.8"/>
<line x1="519.5" y1="31.40" x2="683.7" y2="31.40" stroke="#e3e3e3" stroke-width="0.8"/>
<line x1="519.5" y1="47.27" x2="683.7" y2="47.27" stroke="#e3e3e3" stroke-width="0.8"/>
<line x1="519.5" y1="63.13" x2="683.7" y2="63.13" stroke="#e3e3e3" stroke-width="0.8"/>
<line x1="519.5" y1="79.00" x2="683.7" y2="79.00" stroke="#e3e3e3" stroke-width="0.8"/>
<line x1="519.5" y1="94.87" x2="683.7" y2="94.87" stroke="#e3e3e3" stroke-width="0.8"/>
<line x1="519.5" y1="110.73" x2="683.7" y2="110.73" stroke="#e3e3e3" stroke-width="0.8"/>
<line x1="519.5" y1="126.60" x2="683.7" y2="126.60" stroke="#e3e3e3" stroke-width="0.8"/>
<line x1="519.5" y1="142.47" x2="683.7" y2="142.47" stroke="#e3e3e3" stroke-width="0.8"/>
<line x1="547" y1="36.9" x2="588" y2="36.9" stroke="#222" stroke-width="0.8" stroke-dasharray="3.1 2.9"/>
<line x1="547" y1="139.1" x2="563" y2="139.1" stroke="#222" stroke-width="0.8" stroke-dasharray="3.1 2.9"/>
<line x1="555.8" y1="44" x2="555.8" y2="133" stroke="#222" stroke-width="0.8"/>
<polygon points="555.8,40.3 553.9,45.5 557.7,45.5" fill="#111"/>
<polygon points="555.8,136.8 553.9,131.6 557.7,131.6" fill="#111"/>
<text font-size="8.4" text-anchor="middle" fill="#1c1c1c" transform="translate(542.00 90.00) scale(0.91 1)" >65 dB</text>
<polyline points="581.50,150.40 582.20,139.40 582.80,150.40 584.20,150.40 584.60,143.00 585.20,150.40 587.50,150.40 588.00,141.00 588.60,150.40 589.50,137.00 590.00,150.40 590.60,135.60 591.20,150.40 591.80,136.00 592.40,150.40 593.00,138.00 593.50,150.40 594.50,120.00 595.80,100.00 596.80,95.00 598.20,90.00 598.80,94.00 599.60,80.00 600.60,60.00 602.10,38.50 603.30,55.00 604.20,66.00 605.00,80.00 605.60,91.00 606.40,86.00 607.20,92.00 607.80,105.00 608.80,125.00 609.60,140.00 610.40,150.40 611.30,150.40 611.80,128.00 612.40,150.40 613.20,136.00 613.80,150.40 614.60,142.00 615.20,150.40 616.20,142.00 616.80,150.40 620.50,150.40 621.00,144.60 621.60,150.40" fill="none" stroke="#D95319" stroke-width="0.9" stroke-linejoin="round" />
<polyline points="592.80,150.40 594.00,120.00 594.80,100.00 595.20,88.00 596.60,81.00 599.00,62.00 602.20,42.00 604.30,60.50 605.70,74.70 607.50,87.00 608.60,100.00 609.30,115.00 610.00,150.40" fill="none" stroke="#0072BD" stroke-width="1.0" stroke-linejoin="round" />
<line x1="633.4" y1="150.4" x2="633.4" y2="138" stroke="#0072BD" stroke-width="0.9"/>
<rect x="519.5" y="31.4" width="164.20" height="119.00" fill="none" stroke="#7c7c7c" stroke-width="1.25"/>
<line x1="533.60" y1="150.4" x2="533.60" y2="148.8" stroke="#222" stroke-width="0.9"/>
<line x1="533.60" y1="31.4" x2="533.60" y2="33.0" stroke="#222" stroke-width="0.9"/>
<line x1="575.06" y1="150.4" x2="575.06" y2="148.8" stroke="#222" stroke-width="0.9"/>
<line x1="575.06" y1="31.4" x2="575.06" y2="33.0" stroke="#222" stroke-width="0.9"/>
<line x1="616.53" y1="150.4" x2="616.53" y2="148.8" stroke="#222" stroke-width="0.9"/>
<line x1="616.53" y1="31.4" x2="616.53" y2="33.0" stroke="#222" stroke-width="0.9"/>
<line x1="657.99" y1="150.4" x2="657.99" y2="148.8" stroke="#222" stroke-width="0.9"/>
<line x1="657.99" y1="31.4" x2="657.99" y2="33.0" stroke="#222" stroke-width="0.9"/>
<line x1="519.5" y1="31.40" x2="521.1" y2="31.40" stroke="#222" stroke-width="0.9"/>
<line x1="683.7" y1="31.40" x2="682.1" y2="31.40" stroke="#222" stroke-width="0.9"/>
<line x1="519.5" y1="47.27" x2="521.1" y2="47.27" stroke="#222" stroke-width="0.9"/>
<line x1="683.7" y1="47.27" x2="682.1" y2="47.27" stroke="#222" stroke-width="0.9"/>
<line x1="519.5" y1="63.13" x2="521.1" y2="63.13" stroke="#222" stroke-width="0.9"/>
<line x1="683.7" y1="63.13" x2="682.1" y2="63.13" stroke="#222" stroke-width="0.9"/>
<line x1="519.5" y1="79.00" x2="521.1" y2="79.00" stroke="#222" stroke-width="0.9"/>
<line x1="683.7" y1="79.00" x2="682.1" y2="79.00" stroke="#222" stroke-width="0.9"/>
<line x1="519.5" y1="94.87" x2="521.1" y2="94.87" stroke="#222" stroke-width="0.9"/>
<line x1="683.7" y1="94.87" x2="682.1" y2="94.87" stroke="#222" stroke-width="0.9"/>
<line x1="519.5" y1="110.73" x2="521.1" y2="110.73" stroke="#222" stroke-width="0.9"/>
<line x1="683.7" y1="110.73" x2="682.1" y2="110.73" stroke="#222" stroke-width="0.9"/>
<line x1="519.5" y1="126.60" x2="521.1" y2="126.60" stroke="#222" stroke-width="0.9"/>
<line x1="683.7" y1="126.60" x2="682.1" y2="126.60" stroke="#222" stroke-width="0.9"/>
<line x1="519.5" y1="142.47" x2="521.1" y2="142.47" stroke="#222" stroke-width="0.9"/>
<line x1="683.7" y1="142.47" x2="682.1" y2="142.47" stroke="#222" stroke-width="0.9"/>
<rect x="645.4" y="43.4" width="28.2" height="23" fill="#fff" stroke="#333" stroke-width="0.8"/>
<line x1="650" y1="50.2" x2="656.3" y2="50.2" stroke="#D95319" stroke-width="1"/>
<line x1="650" y1="59.4" x2="656.3" y2="59.4" stroke="#0072BD" stroke-width="1"/>
<text font-size="6.5" text-anchor="start" fill="#1c1c1c" transform="translate(659.60 52.60)" >FH</text>
<text font-size="6.5" text-anchor="start" fill="#1c1c1c" transform="translate(659.60 61.80)" >SH</text>
<text font-size="8.6" text-anchor="end" fill="#1c1c1c" transform="translate(515.70 34.50) scale(0.91 1)" >−30</text>
<text font-size="8.6" text-anchor="end" fill="#1c1c1c" transform="translate(515.70 50.37) scale(0.91 1)" >−40</text>
<text font-size="8.6" text-anchor="end" fill="#1c1c1c" transform="translate(515.70 66.23) scale(0.91 1)" >−50</text>
<text font-size="8.6" text-anchor="end" fill="#1c1c1c" transform="translate(515.70 82.10) scale(0.91 1)" >−60</text>
<text font-size="8.6" text-anchor="end" fill="#1c1c1c" transform="translate(515.70 97.97) scale(0.91 1)" >−70</text>
<text font-size="8.6" text-anchor="end" fill="#1c1c1c" transform="translate(515.70 113.83) scale(0.91 1)" >−80</text>
<text font-size="8.6" text-anchor="end" fill="#1c1c1c" transform="translate(515.70 129.70) scale(0.91 1)" >−90</text>
<text font-size="8.6" text-anchor="end" fill="#1c1c1c" transform="translate(515.70 145.57) scale(0.91 1)" >−100</text>
<text font-size="8.6" text-anchor="middle" fill="#1c1c1c" transform="translate(533.60 160.10) scale(0.91 1)" >1552</text>
<text font-size="8.6" text-anchor="middle" fill="#1c1c1c" transform="translate(575.06 160.10) scale(0.91 1)" >1553</text>
<text font-size="8.6" text-anchor="middle" fill="#1c1c1c" transform="translate(616.53 160.10) scale(0.91 1)" >1554</text>
<text font-size="8.6" text-anchor="middle" fill="#1c1c1c" transform="translate(657.99 160.10) scale(0.91 1)" >1555</text>
<text font-size="8.5" text-anchor="middle" fill="#1c1c1c" transform="translate(601.70 173.80) scale(0.93 1)" >FH wavelength(nm)</text>
<text font-size="8.9" text-anchor="middle" fill="#1c1c1c" transform="translate(496.20 92.40) rotate(-90) scale(0.91 1)" >Optical power (dBm)</text>
<line x1="34.20" y1="220.0" x2="34.20" y2="261.3" stroke="#e3e3e3" stroke-width="0.8"/>
<line x1="57.87" y1="220.0" x2="57.87" y2="261.3" stroke="#e3e3e3" stroke-width="0.8"/>
<line x1="81.53" y1="220.0" x2="81.53" y2="261.3" stroke="#e3e3e3" stroke-width="0.8"/>
<line x1="105.20" y1="220.0" x2="105.20" y2="261.3" stroke="#e3e3e3" stroke-width="0.8"/>
<line x1="128.87" y1="220.0" x2="128.87" y2="261.3" stroke="#e3e3e3" stroke-width="0.8"/>
<line x1="152.53" y1="220.0" x2="152.53" y2="261.3" stroke="#e3e3e3" stroke-width="0.8"/>
<line x1="176.20" y1="220.0" x2="176.20" y2="261.3" stroke="#e3e3e3" stroke-width="0.8"/>
<line x1="34.2" y1="261.30" x2="176.2" y2="261.30" stroke="#e3e3e3" stroke-width="0.8"/>
<line x1="34.2" y1="246.20" x2="176.2" y2="246.20" stroke="#e3e3e3" stroke-width="0.8"/>
<line x1="34.2" y1="231.10" x2="176.2" y2="231.10" stroke="#e3e3e3" stroke-width="0.8"/>
<line x1="34.20" y1="262.4" x2="34.20" y2="305.3" stroke="#e3e3e3" stroke-width="0.8"/>
<line x1="57.87" y1="262.4" x2="57.87" y2="305.3" stroke="#e3e3e3" stroke-width="0.8"/>
<line x1="81.53" y1="262.4" x2="81.53" y2="305.3" stroke="#e3e3e3" stroke-width="0.8"/>
<line x1="105.20" y1="262.4" x2="105.20" y2="305.3" stroke="#e3e3e3" stroke-width="0.8"/>
<line x1="128.87" y1="262.4" x2="128.87" y2="305.3" stroke="#e3e3e3" stroke-width="0.8"/>
<line x1="152.53" y1="262.4" x2="152.53" y2="305.3" stroke="#e3e3e3" stroke-width="0.8"/>
<line x1="176.20" y1="262.4" x2="176.20" y2="305.3" stroke="#e3e3e3" stroke-width="0.8"/>
<line x1="34.2" y1="305.30" x2="176.2" y2="305.30" stroke="#e3e3e3" stroke-width="0.8"/>
<line x1="34.2" y1="288.31" x2="176.2" y2="288.31" stroke="#e3e3e3" stroke-width="0.8"/>
<line x1="34.2" y1="271.32" x2="176.2" y2="271.32" stroke="#e3e3e3" stroke-width="0.8"/>
<line x1="34.20" y1="305.5" x2="34.20" y2="347.3" stroke="#e3e3e3" stroke-width="0.8"/>
<line x1="57.87" y1="305.5" x2="57.87" y2="347.3" stroke="#e3e3e3" stroke-width="0.8"/>
<line x1="81.53" y1="305.5" x2="81.53" y2="347.3" stroke="#e3e3e3" stroke-width="0.8"/>
<line x1="105.20" y1="305.5" x2="105.20" y2="347.3" stroke="#e3e3e3" stroke-width="0.8"/>
<line x1="128.87" y1="305.5" x2="128.87" y2="347.3" stroke="#e3e3e3" stroke-width="0.8"/>
<line x1="152.53" y1="305.5" x2="152.53" y2="347.3" stroke="#e3e3e3" stroke-width="0.8"/>
<line x1="176.20" y1="305.5" x2="176.20" y2="347.3" stroke="#e3e3e3" stroke-width="0.8"/>
<line x1="34.2" y1="347.30" x2="176.2" y2="347.30" stroke="#e3e3e3" stroke-width="0.8"/>
<line x1="34.2" y1="332.76" x2="176.2" y2="332.76" stroke="#e3e3e3" stroke-width="0.8"/>
<line x1="34.2" y1="318.22" x2="176.2" y2="318.22" stroke="#e3e3e3" stroke-width="0.8"/>
<polyline points="34.20,261.30 105.20,225.06 176.20,261.30" fill="none" stroke="#262626" stroke-width="0.9" stroke-linejoin="round" />
<polyline points="36.70,305.20 38.01,304.28 39.31,301.81 40.62,301.49 41.92,300.35 43.23,300.54 44.53,300.24 45.84,298.02 47.14,298.19 48.45,296.50 49.75,295.80 51.05,292.96 52.36,294.75 53.66,293.76 54.97,291.97 56.27,291.13 57.58,290.34 58.88,288.31 60.19,289.08 61.49,287.72 62.80,286.80 64.00,287.50 64.60,295.50 65.30,285.50 66.90,285.50 67.50,287.00 68.20,284.50 69.85,283.30 71.50,282.10 72.87,281.40 74.23,280.70 75.60,280.00 76.20,293.50 76.70,279.00 78.08,278.63 79.47,277.15 80.85,278.02 82.23,277.33 83.62,277.17 85.00,276.80 85.60,286.60 86.30,276.00 89.00,273.80 90.60,286.20 91.30,273.00 94.30,271.00 94.80,283.50 95.50,270.50 97.00,270.00 98.00,281.00 98.70,269.50 100.55,269.00 102.40,268.50 102.80,279.50 103.40,268.30 104.50,268.80 106.00,269.00 107.60,270.20 108.93,280.43 110.27,290.67 111.60,300.90 111.40,271.00 113.10,280.57 114.80,290.13 116.50,299.70 117.80,285.00 118.20,299.00 118.90,273.20 121.00,274.00 123.60,275.00 125.50,285.60 127.40,296.20 127.20,276.70 129.10,278.20 131.00,279.70 134.00,282.00 134.80,296.20 135.40,282.60 136.10,283.50 136.50,302.50 137.20,284.20 138.40,285.60 139.77,285.40 141.13,285.20 142.50,285.00 145.50,288.50 148.40,303.30 149.00,288.50 150.37,289.30 151.73,290.10 153.10,290.90 156.10,292.00 157.40,292.60 158.70,293.20 160.00,293.80 161.35,294.94 162.70,295.45 164.05,296.82 165.40,298.65 166.75,299.36 168.10,299.76 169.45,300.42 170.80,301.87 172.15,304.06 173.50,305.20 176.20,305.20" fill="none" stroke="#D95319" stroke-width="0.9" stroke-linejoin="round" />
<polyline points="34.20,347.30 75.62,347.30 76.21,328.40 76.56,347.30 134.07,347.30 136.68,310.95 137.03,347.30 176.20,347.30" fill="none" stroke="#0072BD" stroke-width="0.8" stroke-linejoin="round" />
<rect x="34.2" y="220.0" width="142.00" height="41.30" fill="none" stroke="#7c7c7c" stroke-width="1.25"/>
<line x1="34.20" y1="261.3" x2="34.20" y2="259.7" stroke="#222" stroke-width="0.9"/>
<line x1="34.20" y1="220.0" x2="34.20" y2="221.6" stroke="#222" stroke-width="0.9"/>
<line x1="57.87" y1="261.3" x2="57.87" y2="259.7" stroke="#222" stroke-width="0.9"/>
<line x1="57.87" y1="220.0" x2="57.87" y2="221.6" stroke="#222" stroke-width="0.9"/>
<line x1="81.53" y1="261.3" x2="81.53" y2="259.7" stroke="#222" stroke-width="0.9"/>
<line x1="81.53" y1="220.0" x2="81.53" y2="221.6" stroke="#222" stroke-width="0.9"/>
<line x1="105.20" y1="261.3" x2="105.20" y2="259.7" stroke="#222" stroke-width="0.9"/>
<line x1="105.20" y1="220.0" x2="105.20" y2="221.6" stroke="#222" stroke-width="0.9"/>
<line x1="128.87" y1="261.3" x2="128.87" y2="259.7" stroke="#222" stroke-width="0.9"/>
<line x1="128.87" y1="220.0" x2="128.87" y2="221.6" stroke="#222" stroke-width="0.9"/>
<line x1="152.53" y1="261.3" x2="152.53" y2="259.7" stroke="#222" stroke-width="0.9"/>
<line x1="152.53" y1="220.0" x2="152.53" y2="221.6" stroke="#222" stroke-width="0.9"/>
<line x1="176.20" y1="261.3" x2="176.20" y2="259.7" stroke="#222" stroke-width="0.9"/>
<line x1="176.20" y1="220.0" x2="176.20" y2="221.6" stroke="#222" stroke-width="0.9"/>
<line x1="34.2" y1="261.30" x2="35.800000000000004" y2="261.30" stroke="#222" stroke-width="0.9"/>
<line x1="176.2" y1="261.30" x2="174.6" y2="261.30" stroke="#222" stroke-width="0.9"/>
<line x1="34.2" y1="246.20" x2="35.800000000000004" y2="246.20" stroke="#222" stroke-width="0.9"/>
<line x1="176.2" y1="246.20" x2="174.6" y2="246.20" stroke="#222" stroke-width="0.9"/>
<line x1="34.2" y1="231.10" x2="35.800000000000004" y2="231.10" stroke="#222" stroke-width="0.9"/>
<line x1="176.2" y1="231.10" x2="174.6" y2="231.10" stroke="#222" stroke-width="0.9"/>
<rect x="34.2" y="262.4" width="142.00" height="42.90" fill="none" stroke="#7c7c7c" stroke-width="1.25"/>
<line x1="34.20" y1="305.3" x2="34.20" y2="303.7" stroke="#222" stroke-width="0.9"/>
<line x1="34.20" y1="262.4" x2="34.20" y2="264.0" stroke="#222" stroke-width="0.9"/>
<line x1="57.87" y1="305.3" x2="57.87" y2="303.7" stroke="#222" stroke-width="0.9"/>
<line x1="57.87" y1="262.4" x2="57.87" y2="264.0" stroke="#222" stroke-width="0.9"/>
<line x1="81.53" y1="305.3" x2="81.53" y2="303.7" stroke="#222" stroke-width="0.9"/>
<line x1="81.53" y1="262.4" x2="81.53" y2="264.0" stroke="#222" stroke-width="0.9"/>
<line x1="105.20" y1="305.3" x2="105.20" y2="303.7" stroke="#222" stroke-width="0.9"/>
<line x1="105.20" y1="262.4" x2="105.20" y2="264.0" stroke="#222" stroke-width="0.9"/>
<line x1="128.87" y1="305.3" x2="128.87" y2="303.7" stroke="#222" stroke-width="0.9"/>
<line x1="128.87" y1="262.4" x2="128.87" y2="264.0" stroke="#222" stroke-width="0.9"/>
<line x1="152.53" y1="305.3" x2="152.53" y2="303.7" stroke="#222" stroke-width="0.9"/>
<line x1="152.53" y1="262.4" x2="152.53" y2="264.0" stroke="#222" stroke-width="0.9"/>
<line x1="176.20" y1="305.3" x2="176.20" y2="303.7" stroke="#222" stroke-width="0.9"/>
<line x1="176.20" y1="262.4" x2="176.20" y2="264.0" stroke="#222" stroke-width="0.9"/>
<line x1="34.2" y1="305.30" x2="35.800000000000004" y2="305.30" stroke="#222" stroke-width="0.9"/>
<line x1="176.2" y1="305.30" x2="174.6" y2="305.30" stroke="#222" stroke-width="0.9"/>
<line x1="34.2" y1="288.31" x2="35.800000000000004" y2="288.31" stroke="#222" stroke-width="0.9"/>
<line x1="176.2" y1="288.31" x2="174.6" y2="288.31" stroke="#222" stroke-width="0.9"/>
<line x1="34.2" y1="271.32" x2="35.800000000000004" y2="271.32" stroke="#222" stroke-width="0.9"/>
<line x1="176.2" y1="271.32" x2="174.6" y2="271.32" stroke="#222" stroke-width="0.9"/>
<rect x="34.2" y="305.5" width="142.00" height="41.80" fill="none" stroke="#7c7c7c" stroke-width="1.25"/>
<line x1="34.20" y1="347.3" x2="34.20" y2="345.7" stroke="#222" stroke-width="0.9"/>
<line x1="34.20" y1="305.5" x2="34.20" y2="307.1" stroke="#222" stroke-width="0.9"/>
<line x1="57.87" y1="347.3" x2="57.87" y2="345.7" stroke="#222" stroke-width="0.9"/>
<line x1="57.87" y1="305.5" x2="57.87" y2="307.1" stroke="#222" stroke-width="0.9"/>
<line x1="81.53" y1="347.3" x2="81.53" y2="345.7" stroke="#222" stroke-width="0.9"/>
<line x1="81.53" y1="305.5" x2="81.53" y2="307.1" stroke="#222" stroke-width="0.9"/>
<line x1="105.20" y1="347.3" x2="105.20" y2="345.7" stroke="#222" stroke-width="0.9"/>
<line x1="105.20" y1="305.5" x2="105.20" y2="307.1" stroke="#222" stroke-width="0.9"/>
<line x1="128.87" y1="347.3" x2="128.87" y2="345.7" stroke="#222" stroke-width="0.9"/>
<line x1="128.87" y1="305.5" x2="128.87" y2="307.1" stroke="#222" stroke-width="0.9"/>
<line x1="152.53" y1="347.3" x2="152.53" y2="345.7" stroke="#222" stroke-width="0.9"/>
<line x1="152.53" y1="305.5" x2="152.53" y2="307.1" stroke="#222" stroke-width="0.9"/>
<line x1="176.20" y1="347.3" x2="176.20" y2="345.7" stroke="#222" stroke-width="0.9"/>
<line x1="176.20" y1="305.5" x2="176.20" y2="307.1" stroke="#222" stroke-width="0.9"/>
<line x1="34.2" y1="347.30" x2="35.800000000000004" y2="347.30" stroke="#222" stroke-width="0.9"/>
<line x1="176.2" y1="347.30" x2="174.6" y2="347.30" stroke="#222" stroke-width="0.9"/>
<line x1="34.2" y1="332.76" x2="35.800000000000004" y2="332.76" stroke="#222" stroke-width="0.9"/>
<line x1="176.2" y1="332.76" x2="174.6" y2="332.76" stroke="#222" stroke-width="0.9"/>
<line x1="34.2" y1="318.22" x2="35.800000000000004" y2="318.22" stroke="#222" stroke-width="0.9"/>
<line x1="176.2" y1="318.22" x2="174.6" y2="318.22" stroke="#222" stroke-width="0.9"/>
<polyline points="34.20,347.30 176.20,347.30" fill="none" stroke="#0072BD" stroke-width="1.0" stroke-linejoin="round" />
<rect x="71.9" y="220.0" width="9.60" height="127.30" fill="#f6e470" fill-opacity="0.33"/>
<rect x="130.4" y="220.0" width="9.50" height="127.30" fill="#f6e470" fill-opacity="0.33"/>
<text font-size="8.6" text-anchor="end" fill="#1c1c1c" transform="translate(30.70 264.40) scale(0.91 1)" >0</text>
<text font-size="8.6" text-anchor="end" fill="#1c1c1c" transform="translate(30.70 249.30) scale(0.91 1)" >100</text>
<text font-size="8.6" text-anchor="end" fill="#1c1c1c" transform="translate(30.70 234.20) scale(0.91 1)" >200</text>
<text font-size="8.6" text-anchor="end" fill="#1c1c1c" transform="translate(30.70 308.40) scale(0.91 1)" >0</text>
<text font-size="8.6" text-anchor="end" fill="#1c1c1c" transform="translate(30.70 291.41) scale(0.91 1)" >4</text>
<text font-size="8.6" text-anchor="end" fill="#1c1c1c" transform="translate(30.70 274.42) scale(0.91 1)" >8</text>
<text font-size="8.6" text-anchor="end" fill="#1c1c1c" transform="translate(30.70 350.40) scale(0.91 1)" >0</text>
<text font-size="8.6" text-anchor="end" fill="#1c1c1c" transform="translate(30.70 335.86) scale(0.91 1)" >0.04</text>
<text font-size="8.6" text-anchor="end" fill="#1c1c1c" transform="translate(30.70 321.32) scale(0.91 1)" >0.08</text>
<text font-size="8.6" text-anchor="middle" fill="#1c1c1c" transform="translate(34.20 358.10) scale(0.91 1)" >0</text>
<text font-size="8.6" text-anchor="middle" fill="#1c1c1c" transform="translate(57.87 358.10) scale(0.91 1)" >2</text>
<text font-size="8.6" text-anchor="middle" fill="#1c1c1c" transform="translate(81.53 358.10) scale(0.91 1)" >4</text>
<text font-size="8.6" text-anchor="middle" fill="#1c1c1c" transform="translate(105.20 358.10) scale(0.91 1)" >6</text>
<text font-size="8.6" text-anchor="middle" fill="#1c1c1c" transform="translate(128.87 358.10) scale(0.91 1)" >8</text>
<text font-size="8.6" text-anchor="middle" fill="#1c1c1c" transform="translate(152.53 358.10) scale(0.91 1)" >10</text>
<text font-size="8.6" text-anchor="middle" fill="#1c1c1c" transform="translate(176.20 358.10) scale(0.91 1)" >12</text>
<text font-size="8.6" text-anchor="middle" fill="#1c1c1c" transform="translate(105.50 370.80) scale(0.91 1)" >Time (s)</text>
<text font-size="9.5" text-anchor="middle" fill="#1c1c1c" transform="translate(105.20 202.20)" >Hotspot A</text>
<text x="105.20" y="213.6" font-size="9.52" text-anchor="middle" fill="#1c1c1c">Sample #1, λ=1552.80 nm, <tspan font-style="italic">T</tspan>=38.5 °C</text>
<line x1="200.80" y1="218.6" x2="200.80" y2="261.3" stroke="#e3e3e3" stroke-width="0.8"/>
<line x1="229.34" y1="218.6" x2="229.34" y2="261.3" stroke="#e3e3e3" stroke-width="0.8"/>
<line x1="257.88" y1="218.6" x2="257.88" y2="261.3" stroke="#e3e3e3" stroke-width="0.8"/>
<line x1="286.42" y1="218.6" x2="286.42" y2="261.3" stroke="#e3e3e3" stroke-width="0.8"/>
<line x1="314.96" y1="218.6" x2="314.96" y2="261.3" stroke="#e3e3e3" stroke-width="0.8"/>
<line x1="343.50" y1="218.6" x2="343.50" y2="261.3" stroke="#e3e3e3" stroke-width="0.8"/>
<line x1="200.8" y1="253.21" x2="343.5" y2="253.21" stroke="#e3e3e3" stroke-width="0.8"/>
<line x1="200.8" y1="239.25" x2="343.5" y2="239.25" stroke="#e3e3e3" stroke-width="0.8"/>
<line x1="200.8" y1="225.30" x2="343.5" y2="225.30" stroke="#e3e3e3" stroke-width="0.8"/>
<line x1="200.80" y1="262.4" x2="200.80" y2="305.3" stroke="#e3e3e3" stroke-width="0.8"/>
<line x1="229.34" y1="262.4" x2="229.34" y2="305.3" stroke="#e3e3e3" stroke-width="0.8"/>
<line x1="257.88" y1="262.4" x2="257.88" y2="305.3" stroke="#e3e3e3" stroke-width="0.8"/>
<line x1="286.42" y1="262.4" x2="286.42" y2="305.3" stroke="#e3e3e3" stroke-width="0.8"/>
<line x1="314.96" y1="262.4" x2="314.96" y2="305.3" stroke="#e3e3e3" stroke-width="0.8"/>
<line x1="343.50" y1="262.4" x2="343.50" y2="305.3" stroke="#e3e3e3" stroke-width="0.8"/>
<line x1="200.8" y1="305.30" x2="343.5" y2="305.30" stroke="#e3e3e3" stroke-width="0.8"/>
<line x1="200.8" y1="288.07" x2="343.5" y2="288.07" stroke="#e3e3e3" stroke-width="0.8"/>
<line x1="200.8" y1="270.84" x2="343.5" y2="270.84" stroke="#e3e3e3" stroke-width="0.8"/>
<line x1="200.80" y1="305.5" x2="200.80" y2="347.3" stroke="#e3e3e3" stroke-width="0.8"/>
<line x1="229.34" y1="305.5" x2="229.34" y2="347.3" stroke="#e3e3e3" stroke-width="0.8"/>
<line x1="257.88" y1="305.5" x2="257.88" y2="347.3" stroke="#e3e3e3" stroke-width="0.8"/>
<line x1="286.42" y1="305.5" x2="286.42" y2="347.3" stroke="#e3e3e3" stroke-width="0.8"/>
<line x1="314.96" y1="305.5" x2="314.96" y2="347.3" stroke="#e3e3e3" stroke-width="0.8"/>
<line x1="343.50" y1="305.5" x2="343.50" y2="347.3" stroke="#e3e3e3" stroke-width="0.8"/>
<line x1="200.8" y1="347.30" x2="343.5" y2="347.30" stroke="#e3e3e3" stroke-width="0.8"/>
<line x1="200.8" y1="333.27" x2="343.5" y2="333.27" stroke="#e3e3e3" stroke-width="0.8"/>
<line x1="200.8" y1="319.25" x2="343.5" y2="319.25" stroke="#e3e3e3" stroke-width="0.8"/>
<polyline points="200.80,261.30 272.15,227.29 343.50,261.30" fill="none" stroke="#262626" stroke-width="0.9" stroke-linejoin="round" />
<polyline points="200.80,304.80 202.12,303.91 203.45,300.98 204.78,302.33 206.10,300.86 207.43,300.58 208.75,300.05 210.08,298.15 211.40,298.00 212.72,296.72 214.05,296.04 215.38,294.59 216.70,293.82 218.03,293.60 219.35,290.82 220.68,291.39 222.00,290.50 224.10,289.50 225.00,292.00 226.00,289.00 227.50,291.00 228.50,287.00 229.81,286.07 231.12,285.37 232.43,284.17 233.74,283.09 235.05,282.63 236.35,281.52 237.66,279.90 238.97,279.02 240.28,278.89 241.59,277.73 242.90,276.80 243.50,290.20 244.20,276.50 245.56,275.80 246.92,275.59 248.28,274.88 249.64,273.70 251.00,273.00 251.20,278.00 251.80,272.80 253.40,272.15 255.00,271.50 254.70,276.00 255.50,271.00 257.70,270.50 257.90,290.20 258.40,270.20 259.93,269.63 261.47,269.07 263.00,268.50 263.30,286.80 263.80,268.30 265.50,268.00 265.20,279.00 266.00,267.80 268.40,267.00 268.60,278.80 269.10,266.80 272.00,267.50 273.70,267.00 275.40,266.50 278.00,267.50 279.00,272.50 280.00,268.00 282.00,270.00 283.60,271.00 284.00,288.20 284.50,271.00 287.50,270.50 289.25,271.75 291.00,273.00 291.50,275.00 292.00,273.00 293.33,274.00 294.67,275.00 296.00,276.00 298.00,277.00 298.50,292.00 299.70,294.20 300.40,278.00 302.20,278.25 304.00,278.50 305.00,291.50 305.60,280.00 306.00,281.00 307.50,282.00 309.00,282.69 310.50,284.00 312.00,285.00 315.00,287.00 316.50,287.75 318.00,288.75 319.50,289.25 321.00,290.00 322.70,294.90 323.50,291.00 326.00,292.50 327.35,293.46 328.69,294.99 330.04,295.00 331.38,296.97 332.73,296.61 334.08,298.47 335.42,299.20 336.77,298.31 338.12,301.24 339.46,301.59 340.81,303.29 342.15,304.04 343.50,305.00" fill="none" stroke="#D95319" stroke-width="0.9" stroke-linejoin="round" />
<polyline points="200.80,347.30 257.52,347.30 257.88,312.23 258.24,347.30 264.23,347.30 264.59,336.50 264.94,347.30 284.07,347.30 284.56,337.90 285.06,347.30 290.34,347.30 290.70,344.49 291.06,347.30 343.50,347.30" fill="none" stroke="#0072BD" stroke-width="0.8" stroke-linejoin="round" />
<rect x="200.8" y="218.6" width="142.70" height="42.70" fill="none" stroke="#7c7c7c" stroke-width="1.25"/>
<line x1="200.80" y1="261.3" x2="200.80" y2="259.7" stroke="#222" stroke-width="0.9"/>
<line x1="200.80" y1="218.6" x2="200.80" y2="220.2" stroke="#222" stroke-width="0.9"/>
<line x1="229.34" y1="261.3" x2="229.34" y2="259.7" stroke="#222" stroke-width="0.9"/>
<line x1="229.34" y1="218.6" x2="229.34" y2="220.2" stroke="#222" stroke-width="0.9"/>
<line x1="257.88" y1="261.3" x2="257.88" y2="259.7" stroke="#222" stroke-width="0.9"/>
<line x1="257.88" y1="218.6" x2="257.88" y2="220.2" stroke="#222" stroke-width="0.9"/>
<line x1="286.42" y1="261.3" x2="286.42" y2="259.7" stroke="#222" stroke-width="0.9"/>
<line x1="286.42" y1="218.6" x2="286.42" y2="220.2" stroke="#222" stroke-width="0.9"/>
<line x1="314.96" y1="261.3" x2="314.96" y2="259.7" stroke="#222" stroke-width="0.9"/>
<line x1="314.96" y1="218.6" x2="314.96" y2="220.2" stroke="#222" stroke-width="0.9"/>
<line x1="343.50" y1="261.3" x2="343.50" y2="259.7" stroke="#222" stroke-width="0.9"/>
<line x1="343.50" y1="218.6" x2="343.50" y2="220.2" stroke="#222" stroke-width="0.9"/>
<line x1="200.8" y1="253.21" x2="202.4" y2="253.21" stroke="#222" stroke-width="0.9"/>
<line x1="343.5" y1="253.21" x2="341.9" y2="253.21" stroke="#222" stroke-width="0.9"/>
<line x1="200.8" y1="239.25" x2="202.4" y2="239.25" stroke="#222" stroke-width="0.9"/>
<line x1="343.5" y1="239.25" x2="341.9" y2="239.25" stroke="#222" stroke-width="0.9"/>
<line x1="200.8" y1="225.30" x2="202.4" y2="225.30" stroke="#222" stroke-width="0.9"/>
<line x1="343.5" y1="225.30" x2="341.9" y2="225.30" stroke="#222" stroke-width="0.9"/>
<rect x="200.8" y="262.4" width="142.70" height="42.90" fill="none" stroke="#7c7c7c" stroke-width="1.25"/>
<line x1="200.80" y1="305.3" x2="200.80" y2="303.7" stroke="#222" stroke-width="0.9"/>
<line x1="200.80" y1="262.4" x2="200.80" y2="264.0" stroke="#222" stroke-width="0.9"/>
<line x1="229.34" y1="305.3" x2="229.34" y2="303.7" stroke="#222" stroke-width="0.9"/>
<line x1="229.34" y1="262.4" x2="229.34" y2="264.0" stroke="#222" stroke-width="0.9"/>
<line x1="257.88" y1="305.3" x2="257.88" y2="303.7" stroke="#222" stroke-width="0.9"/>
<line x1="257.88" y1="262.4" x2="257.88" y2="264.0" stroke="#222" stroke-width="0.9"/>
<line x1="286.42" y1="305.3" x2="286.42" y2="303.7" stroke="#222" stroke-width="0.9"/>
<line x1="286.42" y1="262.4" x2="286.42" y2="264.0" stroke="#222" stroke-width="0.9"/>
<line x1="314.96" y1="305.3" x2="314.96" y2="303.7" stroke="#222" stroke-width="0.9"/>
<line x1="314.96" y1="262.4" x2="314.96" y2="264.0" stroke="#222" stroke-width="0.9"/>
<line x1="343.50" y1="305.3" x2="343.50" y2="303.7" stroke="#222" stroke-width="0.9"/>
<line x1="343.50" y1="262.4" x2="343.50" y2="264.0" stroke="#222" stroke-width="0.9"/>
<line x1="200.8" y1="305.30" x2="202.4" y2="305.30" stroke="#222" stroke-width="0.9"/>
<line x1="343.5" y1="305.30" x2="341.9" y2="305.30" stroke="#222" stroke-width="0.9"/>
<line x1="200.8" y1="288.07" x2="202.4" y2="288.07" stroke="#222" stroke-width="0.9"/>
<line x1="343.5" y1="288.07" x2="341.9" y2="288.07" stroke="#222" stroke-width="0.9"/>
<line x1="200.8" y1="270.84" x2="202.4" y2="270.84" stroke="#222" stroke-width="0.9"/>
<line x1="343.5" y1="270.84" x2="341.9" y2="270.84" stroke="#222" stroke-width="0.9"/>
<rect x="200.8" y="305.5" width="142.70" height="41.80" fill="none" stroke="#7c7c7c" stroke-width="1.25"/>
<line x1="200.80" y1="347.3" x2="200.80" y2="345.7" stroke="#222" stroke-width="0.9"/>
<line x1="200.80" y1="305.5" x2="200.80" y2="307.1" stroke="#222" stroke-width="0.9"/>
<line x1="229.34" y1="347.3" x2="229.34" y2="345.7" stroke="#222" stroke-width="0.9"/>
<line x1="229.34" y1="305.5" x2="229.34" y2="307.1" stroke="#222" stroke-width="0.9"/>
<line x1="257.88" y1="347.3" x2="257.88" y2="345.7" stroke="#222" stroke-width="0.9"/>
<line x1="257.88" y1="305.5" x2="257.88" y2="307.1" stroke="#222" stroke-width="0.9"/>
<line x1="286.42" y1="347.3" x2="286.42" y2="345.7" stroke="#222" stroke-width="0.9"/>
<line x1="286.42" y1="305.5" x2="286.42" y2="307.1" stroke="#222" stroke-width="0.9"/>
<line x1="314.96" y1="347.3" x2="314.96" y2="345.7" stroke="#222" stroke-width="0.9"/>
<line x1="314.96" y1="305.5" x2="314.96" y2="307.1" stroke="#222" stroke-width="0.9"/>
<line x1="343.50" y1="347.3" x2="343.50" y2="345.7" stroke="#222" stroke-width="0.9"/>
<line x1="343.50" y1="305.5" x2="343.50" y2="307.1" stroke="#222" stroke-width="0.9"/>
<line x1="200.8" y1="347.30" x2="202.4" y2="347.30" stroke="#222" stroke-width="0.9"/>
<line x1="343.5" y1="347.30" x2="341.9" y2="347.30" stroke="#222" stroke-width="0.9"/>
<line x1="200.8" y1="333.27" x2="202.4" y2="333.27" stroke="#222" stroke-width="0.9"/>
<line x1="343.5" y1="333.27" x2="341.9" y2="333.27" stroke="#222" stroke-width="0.9"/>
<line x1="200.8" y1="319.25" x2="202.4" y2="319.25" stroke="#222" stroke-width="0.9"/>
<line x1="343.5" y1="319.25" x2="341.9" y2="319.25" stroke="#222" stroke-width="0.9"/>
<polyline points="200.80,347.30 343.50,347.30" fill="none" stroke="#0072BD" stroke-width="1.0" stroke-linejoin="round" />
<text font-size="8.6" text-anchor="end" fill="#1c1c1c" transform="translate(197.30 256.31) scale(0.91 1)" >200</text>
<text font-size="8.6" text-anchor="end" fill="#1c1c1c" transform="translate(197.30 242.35) scale(0.91 1)" >300</text>
<text font-size="8.6" text-anchor="end" fill="#1c1c1c" transform="translate(197.30 228.40) scale(0.91 1)" >400</text>
<text font-size="8.6" text-anchor="end" fill="#1c1c1c" transform="translate(197.30 308.40) scale(0.91 1)" >0</text>
<text font-size="8.6" text-anchor="end" fill="#1c1c1c" transform="translate(197.30 291.17) scale(0.91 1)" >10</text>
<text font-size="8.6" text-anchor="end" fill="#1c1c1c" transform="translate(197.30 273.94) scale(0.91 1)" >20</text>
<text font-size="8.6" text-anchor="end" fill="#1c1c1c" transform="translate(197.30 350.40) scale(0.91 1)" >0</text>
<text font-size="8.6" text-anchor="end" fill="#1c1c1c" transform="translate(197.30 336.37) scale(0.91 1)" >0.1</text>
<text font-size="8.6" text-anchor="end" fill="#1c1c1c" transform="translate(197.30 322.35) scale(0.91 1)" >0.2</text>
<text font-size="8.6" text-anchor="middle" fill="#1c1c1c" transform="translate(200.80 358.10) scale(0.91 1)" >0</text>
<text font-size="8.6" text-anchor="middle" fill="#1c1c1c" transform="translate(229.34 358.10) scale(0.91 1)" >20</text>
<text font-size="8.6" text-anchor="middle" fill="#1c1c1c" transform="translate(257.88 358.10) scale(0.91 1)" >40</text>
<text font-size="8.6" text-anchor="middle" fill="#1c1c1c" transform="translate(286.42 358.10) scale(0.91 1)" >60</text>
<text font-size="8.6" text-anchor="middle" fill="#1c1c1c" transform="translate(314.96 358.10) scale(0.91 1)" >80</text>
<text font-size="8.6" text-anchor="middle" fill="#1c1c1c" transform="translate(343.50 358.10) scale(0.91 1)" >100</text>
<text font-size="8.6" text-anchor="middle" fill="#1c1c1c" transform="translate(272.45 370.80) scale(0.91 1)" >Time (ms)</text>
<text font-size="9.5" text-anchor="middle" fill="#1c1c1c" transform="translate(272.15 202.20)" >Hotspot B</text>
<text x="272.15" y="213.6" font-size="9.52" text-anchor="middle" fill="#1c1c1c">Sample #2, λ=1589.85 nm, <tspan font-style="italic">T</tspan>=23.3 °C</text>
<line x1="366.00" y1="220.0" x2="366.00" y2="261.3" stroke="#e3e3e3" stroke-width="0.8"/>
<line x1="413.43" y1="220.0" x2="413.43" y2="261.3" stroke="#e3e3e3" stroke-width="0.8"/>
<line x1="460.87" y1="220.0" x2="460.87" y2="261.3" stroke="#e3e3e3" stroke-width="0.8"/>
<line x1="508.30" y1="220.0" x2="508.30" y2="261.3" stroke="#e3e3e3" stroke-width="0.8"/>
<line x1="366.0" y1="261.30" x2="508.3" y2="261.30" stroke="#e3e3e3" stroke-width="0.8"/>
<line x1="366.0" y1="244.41" x2="508.3" y2="244.41" stroke="#e3e3e3" stroke-width="0.8"/>
<line x1="366.0" y1="227.52" x2="508.3" y2="227.52" stroke="#e3e3e3" stroke-width="0.8"/>
<line x1="366.00" y1="262.4" x2="366.00" y2="305.3" stroke="#e3e3e3" stroke-width="0.8"/>
<line x1="413.43" y1="262.4" x2="413.43" y2="305.3" stroke="#e3e3e3" stroke-width="0.8"/>
<line x1="460.87" y1="262.4" x2="460.87" y2="305.3" stroke="#e3e3e3" stroke-width="0.8"/>
<line x1="508.30" y1="262.4" x2="508.30" y2="305.3" stroke="#e3e3e3" stroke-width="0.8"/>
<line x1="366.0" y1="305.30" x2="508.3" y2="305.30" stroke="#e3e3e3" stroke-width="0.8"/>
<line x1="366.0" y1="289.29" x2="508.3" y2="289.29" stroke="#e3e3e3" stroke-width="0.8"/>
<line x1="366.0" y1="273.29" x2="508.3" y2="273.29" stroke="#e3e3e3" stroke-width="0.8"/>
<line x1="366.00" y1="305.5" x2="366.00" y2="347.3" stroke="#e3e3e3" stroke-width="0.8"/>
<line x1="413.43" y1="305.5" x2="413.43" y2="347.3" stroke="#e3e3e3" stroke-width="0.8"/>
<line x1="460.87" y1="305.5" x2="460.87" y2="347.3" stroke="#e3e3e3" stroke-width="0.8"/>
<line x1="508.30" y1="305.5" x2="508.30" y2="347.3" stroke="#e3e3e3" stroke-width="0.8"/>
<line x1="366.0" y1="347.30" x2="508.3" y2="347.30" stroke="#e3e3e3" stroke-width="0.8"/>
<line x1="366.0" y1="330.38" x2="508.3" y2="330.38" stroke="#e3e3e3" stroke-width="0.8"/>
<line x1="366.0" y1="313.45" x2="508.3" y2="313.45" stroke="#e3e3e3" stroke-width="0.8"/>
<polyline points="366.00,261.30 437.15,224.81 508.30,261.30" fill="none" stroke="#262626" stroke-width="0.9" stroke-linejoin="round" />
<polyline points="368.00,304.90 369.30,304.08 370.60,303.53 371.90,301.58 373.20,300.36 374.50,300.82 375.80,298.82 377.10,297.52 378.40,297.96 379.70,297.89 381.00,295.32 382.30,295.84 383.60,295.06 384.90,294.35 386.20,291.90 387.50,292.02 388.80,291.72 390.10,290.90 391.00,293.00 393.00,290.00 393.50,295.50 396.00,287.50 397.50,286.83 399.00,286.03 400.50,285.13 402.00,284.95 403.50,284.17 405.00,283.50 405.50,287.00 407.00,282.00 408.50,286.00 410.00,281.00 410.50,280.00 410.80,293.50 413.00,290.00 415.00,283.00 417.00,277.00 420.00,274.50 421.33,274.17 422.67,273.83 424.00,273.50 424.50,281.00 425.00,274.50 426.00,272.00 427.00,271.50 427.50,283.00 428.00,272.50 429.00,278.00 430.00,285.50 431.00,283.00 432.50,279.00 433.00,300.20 434.00,278.00 436.00,275.00 437.50,269.00 438.50,280.00 440.00,272.00 441.00,276.00 442.00,285.00 443.00,300.00 444.00,299.00 445.00,282.00 446.00,270.00 447.00,284.00 448.00,277.00 449.00,281.00 450.00,278.00 451.50,286.00 452.50,273.00 454.00,276.00 456.00,276.00 459.00,278.00 461.00,282.00 463.00,279.50 464.00,284.00 465.00,290.00 467.00,294.50 468.00,293.00 469.00,283.00 470.50,283.00 471.00,286.00 473.00,285.00 475.00,286.00 476.33,287.00 477.67,288.00 479.00,289.00 480.33,289.67 481.67,290.33 483.00,291.00 486.00,296.00 487.00,294.00 488.33,295.67 489.67,297.33 491.00,299.00 492.00,296.00 494.00,297.00 495.30,297.80 496.60,297.44 497.90,299.97 499.20,299.82 500.50,301.47 501.80,300.95 503.10,302.84 504.40,302.93 505.70,304.20 507.00,305.00 508.30,305.00" fill="none" stroke="#D95319" stroke-width="0.9" stroke-linejoin="round" />
<polyline points="366.00,347.30 432.98,347.30 433.36,319.88 433.73,347.30 442.94,347.30 443.32,313.45 443.51,347.30 444.17,347.30 444.74,308.72 445.12,347.30 508.30,347.30" fill="none" stroke="#0072BD" stroke-width="0.8" stroke-linejoin="round" />
<rect x="366.0" y="220.0" width="142.30" height="41.30" fill="none" stroke="#7c7c7c" stroke-width="1.25"/>
<line x1="366.00" y1="261.3" x2="366.00" y2="259.7" stroke="#222" stroke-width="0.9"/>
<line x1="366.00" y1="220.0" x2="366.00" y2="221.6" stroke="#222" stroke-width="0.9"/>
<line x1="413.43" y1="261.3" x2="413.43" y2="259.7" stroke="#222" stroke-width="0.9"/>
<line x1="413.43" y1="220.0" x2="413.43" y2="221.6" stroke="#222" stroke-width="0.9"/>
<line x1="460.87" y1="261.3" x2="460.87" y2="259.7" stroke="#222" stroke-width="0.9"/>
<line x1="460.87" y1="220.0" x2="460.87" y2="221.6" stroke="#222" stroke-width="0.9"/>
<line x1="508.30" y1="261.3" x2="508.30" y2="259.7" stroke="#222" stroke-width="0.9"/>
<line x1="508.30" y1="220.0" x2="508.30" y2="221.6" stroke="#222" stroke-width="0.9"/>
<line x1="366.0" y1="261.30" x2="367.6" y2="261.30" stroke="#222" stroke-width="0.9"/>
<line x1="508.3" y1="261.30" x2="506.7" y2="261.30" stroke="#222" stroke-width="0.9"/>
<line x1="366.0" y1="244.41" x2="367.6" y2="244.41" stroke="#222" stroke-width="0.9"/>
<line x1="508.3" y1="244.41" x2="506.7" y2="244.41" stroke="#222" stroke-width="0.9"/>
<line x1="366.0" y1="227.52" x2="367.6" y2="227.52" stroke="#222" stroke-width="0.9"/>
<line x1="508.3" y1="227.52" x2="506.7" y2="227.52" stroke="#222" stroke-width="0.9"/>
<rect x="366.0" y="262.4" width="142.30" height="42.90" fill="none" stroke="#7c7c7c" stroke-width="1.25"/>
<line x1="366.00" y1="305.3" x2="366.00" y2="303.7" stroke="#222" stroke-width="0.9"/>
<line x1="366.00" y1="262.4" x2="366.00" y2="264.0" stroke="#222" stroke-width="0.9"/>
<line x1="413.43" y1="305.3" x2="413.43" y2="303.7" stroke="#222" stroke-width="0.9"/>
<line x1="413.43" y1="262.4" x2="413.43" y2="264.0" stroke="#222" stroke-width="0.9"/>
<line x1="460.87" y1="305.3" x2="460.87" y2="303.7" stroke="#222" stroke-width="0.9"/>
<line x1="460.87" y1="262.4" x2="460.87" y2="264.0" stroke="#222" stroke-width="0.9"/>
<line x1="508.30" y1="305.3" x2="508.30" y2="303.7" stroke="#222" stroke-width="0.9"/>
<line x1="508.30" y1="262.4" x2="508.30" y2="264.0" stroke="#222" stroke-width="0.9"/>
<line x1="366.0" y1="305.30" x2="367.6" y2="305.30" stroke="#222" stroke-width="0.9"/>
<line x1="508.3" y1="305.30" x2="506.7" y2="305.30" stroke="#222" stroke-width="0.9"/>
<line x1="366.0" y1="289.29" x2="367.6" y2="289.29" stroke="#222" stroke-width="0.9"/>
<line x1="508.3" y1="289.29" x2="506.7" y2="289.29" stroke="#222" stroke-width="0.9"/>
<line x1="366.0" y1="273.29" x2="367.6" y2="273.29" stroke="#222" stroke-width="0.9"/>
<line x1="508.3" y1="273.29" x2="506.7" y2="273.29" stroke="#222" stroke-width="0.9"/>
<rect x="366.0" y="305.5" width="142.30" height="41.80" fill="none" stroke="#7c7c7c" stroke-width="1.25"/>
<line x1="366.00" y1="347.3" x2="366.00" y2="345.7" stroke="#222" stroke-width="0.9"/>
<line x1="366.00" y1="305.5" x2="366.00" y2="307.1" stroke="#222" stroke-width="0.9"/>
<line x1="413.43" y1="347.3" x2="413.43" y2="345.7" stroke="#222" stroke-width="0.9"/>
<line x1="413.43" y1="305.5" x2="413.43" y2="307.1" stroke="#222" stroke-width="0.9"/>
<line x1="460.87" y1="347.3" x2="460.87" y2="345.7" stroke="#222" stroke-width="0.9"/>
<line x1="460.87" y1="305.5" x2="460.87" y2="307.1" stroke="#222" stroke-width="0.9"/>
<line x1="508.30" y1="347.3" x2="508.30" y2="345.7" stroke="#222" stroke-width="0.9"/>
<line x1="508.30" y1="305.5" x2="508.30" y2="307.1" stroke="#222" stroke-width="0.9"/>
<line x1="366.0" y1="347.30" x2="367.6" y2="347.30" stroke="#222" stroke-width="0.9"/>
<line x1="508.3" y1="347.30" x2="506.7" y2="347.30" stroke="#222" stroke-width="0.9"/>
<line x1="366.0" y1="330.38" x2="367.6" y2="330.38" stroke="#222" stroke-width="0.9"/>
<line x1="508.3" y1="330.38" x2="506.7" y2="330.38" stroke="#222" stroke-width="0.9"/>
<line x1="366.0" y1="313.45" x2="367.6" y2="313.45" stroke="#222" stroke-width="0.9"/>
<line x1="508.3" y1="313.45" x2="506.7" y2="313.45" stroke="#222" stroke-width="0.9"/>
<polyline points="366.00,347.30 508.30,347.30" fill="none" stroke="#0072BD" stroke-width="1.0" stroke-linejoin="round" />
<text font-size="8.6" text-anchor="end" fill="#1c1c1c" transform="translate(362.50 264.40) scale(0.91 1)" >0</text>
<text font-size="8.6" text-anchor="end" fill="#1c1c1c" transform="translate(362.50 247.51) scale(0.91 1)" >200</text>
<text font-size="8.6" text-anchor="end" fill="#1c1c1c" transform="translate(362.50 230.62) scale(0.91 1)" >400</text>
<text font-size="8.6" text-anchor="end" fill="#1c1c1c" transform="translate(362.50 308.40) scale(0.91 1)" >0</text>
<text font-size="8.6" text-anchor="end" fill="#1c1c1c" transform="translate(362.50 292.39) scale(0.91 1)" >15</text>
<text font-size="8.6" text-anchor="end" fill="#1c1c1c" transform="translate(362.50 276.39) scale(0.91 1)" >30</text>
<text font-size="8.6" text-anchor="end" fill="#1c1c1c" transform="translate(362.50 350.40) scale(0.91 1)" >0</text>
<text font-size="8.6" text-anchor="end" fill="#1c1c1c" transform="translate(362.50 333.48) scale(0.91 1)" >1</text>
<text font-size="8.6" text-anchor="end" fill="#1c1c1c" transform="translate(362.50 316.55) scale(0.91 1)" >2</text>
<text font-size="8.6" text-anchor="middle" fill="#1c1c1c" transform="translate(366.00 358.10) scale(0.91 1)" >0</text>
<text font-size="8.6" text-anchor="middle" fill="#1c1c1c" transform="translate(413.43 358.10) scale(0.91 1)" >10</text>
<text font-size="8.6" text-anchor="middle" fill="#1c1c1c" transform="translate(460.87 358.10) scale(0.91 1)" >20</text>
<text font-size="8.6" text-anchor="middle" fill="#1c1c1c" transform="translate(508.30 358.10) scale(0.91 1)" >30</text>
<text font-size="8.6" text-anchor="middle" fill="#1c1c1c" transform="translate(437.45 370.80) scale(0.91 1)" >Time (ms)</text>
<text font-size="9.5" text-anchor="middle" fill="#1c1c1c" transform="translate(437.15 202.20)" >Hotspot C</text>
<text x="437.15" y="213.6" font-size="9.52" text-anchor="middle" fill="#1c1c1c">Sample #2, λ=1583.05 nm, <tspan font-style="italic">T</tspan>=56.0 °C</text>
<line x1="533.00" y1="220.0" x2="533.00" y2="261.3" stroke="#e3e3e3" stroke-width="0.8"/>
<line x1="561.44" y1="220.0" x2="561.44" y2="261.3" stroke="#e3e3e3" stroke-width="0.8"/>
<line x1="589.88" y1="220.0" x2="589.88" y2="261.3" stroke="#e3e3e3" stroke-width="0.8"/>
<line x1="618.32" y1="220.0" x2="618.32" y2="261.3" stroke="#e3e3e3" stroke-width="0.8"/>
<line x1="646.76" y1="220.0" x2="646.76" y2="261.3" stroke="#e3e3e3" stroke-width="0.8"/>
<line x1="675.20" y1="220.0" x2="675.20" y2="261.3" stroke="#e3e3e3" stroke-width="0.8"/>
<line x1="533.0" y1="261.30" x2="675.2" y2="261.30" stroke="#e3e3e3" stroke-width="0.8"/>
<line x1="533.0" y1="244.44" x2="675.2" y2="244.44" stroke="#e3e3e3" stroke-width="0.8"/>
<line x1="533.0" y1="227.59" x2="675.2" y2="227.59" stroke="#e3e3e3" stroke-width="0.8"/>
<line x1="533.00" y1="262.4" x2="533.00" y2="305.3" stroke="#e3e3e3" stroke-width="0.8"/>
<line x1="561.44" y1="262.4" x2="561.44" y2="305.3" stroke="#e3e3e3" stroke-width="0.8"/>
<line x1="589.88" y1="262.4" x2="589.88" y2="305.3" stroke="#e3e3e3" stroke-width="0.8"/>
<line x1="618.32" y1="262.4" x2="618.32" y2="305.3" stroke="#e3e3e3" stroke-width="0.8"/>
<line x1="646.76" y1="262.4" x2="646.76" y2="305.3" stroke="#e3e3e3" stroke-width="0.8"/>
<line x1="675.20" y1="262.4" x2="675.20" y2="305.3" stroke="#e3e3e3" stroke-width="0.8"/>
<line x1="533.0" y1="305.30" x2="675.2" y2="305.30" stroke="#e3e3e3" stroke-width="0.8"/>
<line x1="533.0" y1="293.25" x2="675.2" y2="293.25" stroke="#e3e3e3" stroke-width="0.8"/>
<line x1="533.0" y1="281.20" x2="675.2" y2="281.20" stroke="#e3e3e3" stroke-width="0.8"/>
<line x1="533.0" y1="269.15" x2="675.2" y2="269.15" stroke="#e3e3e3" stroke-width="0.8"/>
<line x1="533.00" y1="305.5" x2="533.00" y2="347.3" stroke="#e3e3e3" stroke-width="0.8"/>
<line x1="561.44" y1="305.5" x2="561.44" y2="347.3" stroke="#e3e3e3" stroke-width="0.8"/>
<line x1="589.88" y1="305.5" x2="589.88" y2="347.3" stroke="#e3e3e3" stroke-width="0.8"/>
<line x1="618.32" y1="305.5" x2="618.32" y2="347.3" stroke="#e3e3e3" stroke-width="0.8"/>
<line x1="646.76" y1="305.5" x2="646.76" y2="347.3" stroke="#e3e3e3" stroke-width="0.8"/>
<line x1="675.20" y1="305.5" x2="675.20" y2="347.3" stroke="#e3e3e3" stroke-width="0.8"/>
<line x1="533.0" y1="347.30" x2="675.2" y2="347.30" stroke="#e3e3e3" stroke-width="0.8"/>
<line x1="533.0" y1="330.75" x2="675.2" y2="330.75" stroke="#e3e3e3" stroke-width="0.8"/>
<line x1="533.0" y1="314.19" x2="675.2" y2="314.19" stroke="#e3e3e3" stroke-width="0.8"/>
<polyline points="533.00,261.30 604.10,225.06 675.20,261.30" fill="none" stroke="#262626" stroke-width="0.9" stroke-linejoin="round" />
<polyline points="533.00,304.00 534.40,304.00 535.80,304.00 537.20,304.00 538.60,304.00 540.00,304.00 541.40,303.07 542.80,301.89 544.20,300.86 545.60,300.25 547.00,298.86 548.40,298.48 549.80,297.41 551.20,295.01 552.60,296.05 554.00,295.18 555.40,293.82 556.80,292.90 557.50,295.00 558.30,296.50 559.00,296.00 559.50,290.00 560.88,289.38 562.25,287.71 563.62,288.12 565.00,287.50 565.30,299.60 566.00,286.00 568.00,285.00 570.00,283.00 571.33,282.67 572.67,282.33 574.00,282.00 575.00,281.00 575.50,294.20 576.00,281.00 577.67,280.33 579.33,279.67 581.00,279.00 582.00,278.50 582.30,298.20 583.00,277.00 584.00,276.00 585.00,275.00 585.30,289.50 586.00,275.50 587.00,275.50 589.00,274.00 589.30,290.80 590.00,274.00 591.00,273.50 592.00,274.00 593.50,283.00 594.00,289.00 595.30,297.50 596.00,278.00 597.00,270.50 600.00,269.50 602.00,272.50 603.00,270.50 605.00,269.00 606.00,270.00 606.50,275.50 607.50,270.00 609.00,270.50 609.50,288.80 610.50,271.00 613.00,272.00 615.00,273.50 615.50,295.50 617.00,274.00 618.00,275.00 618.50,286.80 620.00,275.50 622.00,277.00 623.50,281.00 624.50,294.20 626.00,279.00 627.33,279.67 628.67,280.33 630.00,281.00 630.50,298.90 632.00,282.00 634.00,283.00 637.00,285.50 639.00,298.20 640.00,286.00 641.50,286.75 643.00,285.96 644.50,288.25 646.00,289.00 648.00,291.00 650.00,299.00 652.00,302.00 653.00,302.00 653.50,294.00 655.00,297.00 657.00,295.00 658.67,296.00 660.33,297.00 662.00,298.00 663.50,299.50 665.00,301.13 666.50,302.50 668.00,304.00 669.44,304.00 670.88,304.00 672.32,304.00 673.76,304.00 675.20,304.00" fill="none" stroke="#D95319" stroke-width="0.9" stroke-linejoin="round" />
<polyline points="533.00,347.30 595.00,347.30 595.57,311.29 596.14,347.30 616.40,347.30 616.90,320.81 617.40,347.30 675.20,347.30" fill="none" stroke="#0072BD" stroke-width="0.8" stroke-linejoin="round" />
<rect x="533.0" y="220.0" width="142.20" height="41.30" fill="none" stroke="#7c7c7c" stroke-width="1.25"/>
<line x1="533.00" y1="261.3" x2="533.00" y2="259.7" stroke="#222" stroke-width="0.9"/>
<line x1="533.00" y1="220.0" x2="533.00" y2="221.6" stroke="#222" stroke-width="0.9"/>
<line x1="561.44" y1="261.3" x2="561.44" y2="259.7" stroke="#222" stroke-width="0.9"/>
<line x1="561.44" y1="220.0" x2="561.44" y2="221.6" stroke="#222" stroke-width="0.9"/>
<line x1="589.88" y1="261.3" x2="589.88" y2="259.7" stroke="#222" stroke-width="0.9"/>
<line x1="589.88" y1="220.0" x2="589.88" y2="221.6" stroke="#222" stroke-width="0.9"/>
<line x1="618.32" y1="261.3" x2="618.32" y2="259.7" stroke="#222" stroke-width="0.9"/>
<line x1="618.32" y1="220.0" x2="618.32" y2="221.6" stroke="#222" stroke-width="0.9"/>
<line x1="646.76" y1="261.3" x2="646.76" y2="259.7" stroke="#222" stroke-width="0.9"/>
<line x1="646.76" y1="220.0" x2="646.76" y2="221.6" stroke="#222" stroke-width="0.9"/>
<line x1="675.20" y1="261.3" x2="675.20" y2="259.7" stroke="#222" stroke-width="0.9"/>
<line x1="675.20" y1="220.0" x2="675.20" y2="221.6" stroke="#222" stroke-width="0.9"/>
<line x1="533.0" y1="261.30" x2="534.6" y2="261.30" stroke="#222" stroke-width="0.9"/>
<line x1="675.2" y1="261.30" x2="673.6" y2="261.30" stroke="#222" stroke-width="0.9"/>
<line x1="533.0" y1="244.44" x2="534.6" y2="244.44" stroke="#222" stroke-width="0.9"/>
<line x1="675.2" y1="244.44" x2="673.6" y2="244.44" stroke="#222" stroke-width="0.9"/>
<line x1="533.0" y1="227.59" x2="534.6" y2="227.59" stroke="#222" stroke-width="0.9"/>
<line x1="675.2" y1="227.59" x2="673.6" y2="227.59" stroke="#222" stroke-width="0.9"/>
<rect x="533.0" y="262.4" width="142.20" height="42.90" fill="none" stroke="#7c7c7c" stroke-width="1.25"/>
<line x1="533.00" y1="305.3" x2="533.00" y2="303.7" stroke="#222" stroke-width="0.9"/>
<line x1="533.00" y1="262.4" x2="533.00" y2="264.0" stroke="#222" stroke-width="0.9"/>
<line x1="561.44" y1="305.3" x2="561.44" y2="303.7" stroke="#222" stroke-width="0.9"/>
<line x1="561.44" y1="262.4" x2="561.44" y2="264.0" stroke="#222" stroke-width="0.9"/>
<line x1="589.88" y1="305.3" x2="589.88" y2="303.7" stroke="#222" stroke-width="0.9"/>
<line x1="589.88" y1="262.4" x2="589.88" y2="264.0" stroke="#222" stroke-width="0.9"/>
<line x1="618.32" y1="305.3" x2="618.32" y2="303.7" stroke="#222" stroke-width="0.9"/>
<line x1="618.32" y1="262.4" x2="618.32" y2="264.0" stroke="#222" stroke-width="0.9"/>
<line x1="646.76" y1="305.3" x2="646.76" y2="303.7" stroke="#222" stroke-width="0.9"/>
<line x1="646.76" y1="262.4" x2="646.76" y2="264.0" stroke="#222" stroke-width="0.9"/>
<line x1="675.20" y1="305.3" x2="675.20" y2="303.7" stroke="#222" stroke-width="0.9"/>
<line x1="675.20" y1="262.4" x2="675.20" y2="264.0" stroke="#222" stroke-width="0.9"/>
<line x1="533.0" y1="305.30" x2="534.6" y2="305.30" stroke="#222" stroke-width="0.9"/>
<line x1="675.2" y1="305.30" x2="673.6" y2="305.30" stroke="#222" stroke-width="0.9"/>
<line x1="533.0" y1="293.25" x2="534.6" y2="293.25" stroke="#222" stroke-width="0.9"/>
<line x1="675.2" y1="293.25" x2="673.6" y2="293.25" stroke="#222" stroke-width="0.9"/>
<line x1="533.0" y1="281.20" x2="534.6" y2="281.20" stroke="#222" stroke-width="0.9"/>
<line x1="675.2" y1="281.20" x2="673.6" y2="281.20" stroke="#222" stroke-width="0.9"/>
<line x1="533.0" y1="269.15" x2="534.6" y2="269.15" stroke="#222" stroke-width="0.9"/>
<line x1="675.2" y1="269.15" x2="673.6" y2="269.15" stroke="#222" stroke-width="0.9"/>
<rect x="533.0" y="305.5" width="142.20" height="41.80" fill="none" stroke="#7c7c7c" stroke-width="1.25"/>
<line x1="533.00" y1="347.3" x2="533.00" y2="345.7" stroke="#222" stroke-width="0.9"/>
<line x1="533.00" y1="305.5" x2="533.00" y2="307.1" stroke="#222" stroke-width="0.9"/>
<line x1="561.44" y1="347.3" x2="561.44" y2="345.7" stroke="#222" stroke-width="0.9"/>
<line x1="561.44" y1="305.5" x2="561.44" y2="307.1" stroke="#222" stroke-width="0.9"/>
<line x1="589.88" y1="347.3" x2="589.88" y2="345.7" stroke="#222" stroke-width="0.9"/>
<line x1="589.88" y1="305.5" x2="589.88" y2="307.1" stroke="#222" stroke-width="0.9"/>
<line x1="618.32" y1="347.3" x2="618.32" y2="345.7" stroke="#222" stroke-width="0.9"/>
<line x1="618.32" y1="305.5" x2="618.32" y2="307.1" stroke="#222" stroke-width="0.9"/>
<line x1="646.76" y1="347.3" x2="646.76" y2="345.7" stroke="#222" stroke-width="0.9"/>
<line x1="646.76" y1="305.5" x2="646.76" y2="307.1" stroke="#222" stroke-width="0.9"/>
<line x1="675.20" y1="347.3" x2="675.20" y2="345.7" stroke="#222" stroke-width="0.9"/>
<line x1="675.20" y1="305.5" x2="675.20" y2="307.1" stroke="#222" stroke-width="0.9"/>
<line x1="533.0" y1="347.30" x2="534.6" y2="347.30" stroke="#222" stroke-width="0.9"/>
<line x1="675.2" y1="347.30" x2="673.6" y2="347.30" stroke="#222" stroke-width="0.9"/>
<line x1="533.0" y1="330.75" x2="534.6" y2="330.75" stroke="#222" stroke-width="0.9"/>
<line x1="675.2" y1="330.75" x2="673.6" y2="330.75" stroke="#222" stroke-width="0.9"/>
<line x1="533.0" y1="314.19" x2="534.6" y2="314.19" stroke="#222" stroke-width="0.9"/>
<line x1="675.2" y1="314.19" x2="673.6" y2="314.19" stroke="#222" stroke-width="0.9"/>
<polyline points="533.00,347.30 675.20,347.30" fill="none" stroke="#0072BD" stroke-width="1.0" stroke-linejoin="round" />
<text font-size="8.6" text-anchor="end" fill="#1c1c1c" transform="translate(529.50 264.40) scale(0.91 1)" >0</text>
<text font-size="8.6" text-anchor="end" fill="#1c1c1c" transform="translate(529.50 247.54) scale(0.91 1)" >200</text>
<text font-size="8.6" text-anchor="end" fill="#1c1c1c" transform="translate(529.50 230.69) scale(0.91 1)" >400</text>
<text font-size="8.6" text-anchor="end" fill="#1c1c1c" transform="translate(529.50 308.40) scale(0.91 1)" >0</text>
<text font-size="8.6" text-anchor="end" fill="#1c1c1c" transform="translate(529.50 296.35) scale(0.91 1)" >10</text>
<text font-size="8.6" text-anchor="end" fill="#1c1c1c" transform="translate(529.50 284.30) scale(0.91 1)" >20</text>
<text font-size="8.6" text-anchor="end" fill="#1c1c1c" transform="translate(529.50 272.25) scale(0.91 1)" >30</text>
<text font-size="8.6" text-anchor="end" fill="#1c1c1c" transform="translate(529.50 350.40) scale(0.91 1)" >0</text>
<text font-size="8.6" text-anchor="end" fill="#1c1c1c" transform="translate(529.50 333.85) scale(0.91 1)" >0.2</text>
<text font-size="8.6" text-anchor="end" fill="#1c1c1c" transform="translate(529.50 317.29) scale(0.91 1)" >0.4</text>
<text font-size="8.6" text-anchor="middle" fill="#1c1c1c" transform="translate(533.00 358.10) scale(0.91 1)" >0</text>
<text font-size="8.6" text-anchor="middle" fill="#1c1c1c" transform="translate(561.44 358.10) scale(0.91 1)" >20</text>
<text font-size="8.6" text-anchor="middle" fill="#1c1c1c" transform="translate(589.88 358.10) scale(0.91 1)" >40</text>
<text font-size="8.6" text-anchor="middle" fill="#1c1c1c" transform="translate(618.32 358.10) scale(0.91 1)" >60</text>
<text font-size="8.6" text-anchor="middle" fill="#1c1c1c" transform="translate(646.76 358.10) scale(0.91 1)" >80</text>
<text font-size="8.6" text-anchor="middle" fill="#1c1c1c" transform="translate(675.20 358.10) scale(0.91 1)" >100</text>
<text font-size="8.6" text-anchor="middle" fill="#1c1c1c" transform="translate(604.40 370.80) scale(0.91 1)" >Time (ms)</text>
<text font-size="9.5" text-anchor="middle" fill="#1c1c1c" transform="translate(604.10 202.20)" >Hotspot D</text>
<text x="604.10" y="213.6" font-size="9.52" text-anchor="middle" fill="#1c1c1c">Sample #1, λ=1585.75 nm, <tspan font-style="italic">T</tspan>=50.0 °C</text>
<text font-size="8.9" text-anchor="middle" fill="#1c1c1c" transform="translate(7.70 240.60) rotate(-90) scale(0.91 1)" >Current (mA)</text>
<text font-size="8.6" text-anchor="middle" fill="#1c1c1c" transform="translate(7.70 284.40) rotate(-90) scale(0.91 1)" >FH (mV)</text>
<text font-size="8.6" text-anchor="middle" fill="#1c1c1c" transform="translate(7.70 328.00) rotate(-90) scale(0.91 1)" >SH (mV)</text>
<text font-size="8.4" text-anchor="middle" fill="#1c1c1c" transform="translate(154.40 273.80) scale(0.91 1)" >SIL events</text>
<line x1="144.20" y1="275.20" x2="131.62" y2="281.98" stroke="#111" stroke-width="0.7"/>
<polygon points="128.80,283.50 130.95,280.75 132.28,283.21" fill="#111"/>
<line x1="147.60" y1="275.40" x2="140.51" y2="284.93" stroke="#111" stroke-width="0.7"/>
<polygon points="138.60,287.50 139.39,284.10 141.63,285.77" fill="#111"/>
<line x1="150.90" y1="276.10" x2="150.04" y2="279.69" stroke="#111" stroke-width="0.7"/>
<polygon points="149.30,282.80 148.68,279.36 151.40,280.01" fill="#111"/>
<text font-size="8.4" text-anchor="middle" fill="#1c1c1c" transform="translate(104.70 318.20) scale(0.91 1)" >SIL+SHG</text>
<text font-size="8.4" text-anchor="middle" fill="#1c1c1c" transform="translate(105.50 328.20) scale(0.91 1)" >events</text>
<line x1="90.30" y1="322.00" x2="82.85" y2="325.84" stroke="#111" stroke-width="0.7"/>
<polygon points="80.00,327.30 82.20,324.59 83.49,327.08" fill="#111"/>
<line x1="124.00" y1="316.80" x2="128.80" y2="316.80" stroke="#111" stroke-width="0.7"/>
<polygon points="132.00,316.80 128.80,318.20 128.80,315.40" fill="#111"/>
</svg></body></html>
